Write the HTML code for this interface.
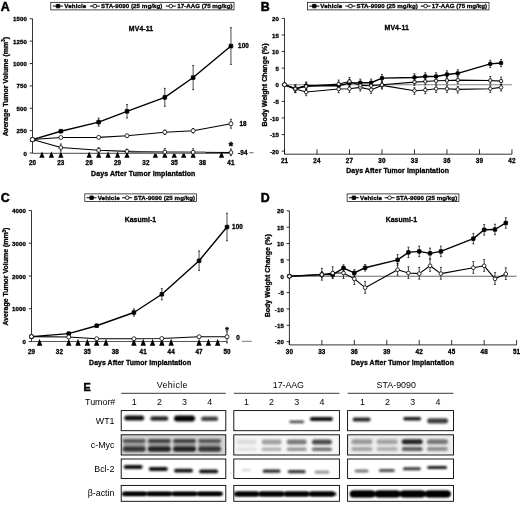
<!DOCTYPE html><html><head><meta charset="utf-8"><title>Figure</title><style>html,body{margin:0;padding:0;background:#fff}svg{display:block}text{font-family:"Liberation Sans",sans-serif;fill:#000}</style></head><body>
<svg width="520" height="506" viewBox="0 0 520 506">
<defs><filter id="b1" x="-20%" y="-50%" width="140%" height="200%"><feGaussianBlur stdDeviation="0.8"/></filter><filter id="b2" x="-20%" y="-50%" width="140%" height="200%"><feGaussianBlur stdDeviation="1.2"/></filter></defs>
<rect width="520" height="506" fill="#fff"/>
<text x="0.70" y="11.20" font-size="12.4" font-weight="bold" text-anchor="start" stroke="#000" stroke-width="0.5" >A</text>
<rect x="50.8" y="2.3" width="183.2" height="7.6000000000000005" fill="#fff" stroke="#000" stroke-width="0.7"/>
<line x1="53.00" y1="6.10" x2="63.00" y2="6.10" stroke="#000" stroke-width="1.0"/>
<rect x="56.25" y="4.35" width="3.5" height="3.5" rx="0.3" fill="#000" stroke="#000" stroke-width="0.8"/>
<text x="64.30" y="8.30" font-size="6.2" font-weight="bold" text-anchor="start" stroke="#000" stroke-width="0.3"  textLength="22" lengthAdjust="spacing">Vehicle</text>
<line x1="89.80" y1="6.10" x2="99.80" y2="6.10" stroke="#000" stroke-width="1.0"/>
<rect x="93.20" y="4.50" width="3.2" height="3.2" rx="0.3" fill="#fff" stroke="#000" stroke-width="0.8"/>
<text x="101.10" y="8.30" font-size="6.2" font-weight="bold" text-anchor="start" stroke="#000" stroke-width="0.3"  textLength="61.3" lengthAdjust="spacing">STA-9090 (25 mg/kg)</text>
<line x1="165.80" y1="6.10" x2="175.80" y2="6.10" stroke="#000" stroke-width="1.0"/>
<circle cx="170.80" cy="6.10" r="1.8" fill="#fff" stroke="#000" stroke-width="0.8"/>
<text x="177.30" y="8.30" font-size="6.2" font-weight="bold" text-anchor="start" stroke="#000" stroke-width="0.3"  textLength="55.3" lengthAdjust="spacing">17-AAG (75 mg/kg)</text>
<line x1="32.50" y1="18.75" x2="32.50" y2="153.00" stroke="#000" stroke-width="0.8"/>
<line x1="32.50" y1="153.30" x2="230.95" y2="153.30" stroke="#333" stroke-width="0.9"/>
<line x1="29.70" y1="153.00" x2="32.50" y2="153.00" stroke="#000" stroke-width="0.8"/>
<text x="27.10" y="155.60" font-size="6.1" font-weight="bold" text-anchor="end" stroke="#000" stroke-width="0.3"  letter-spacing="0.12">0</text>
<line x1="29.70" y1="130.62" x2="32.50" y2="130.62" stroke="#000" stroke-width="0.8"/>
<text x="27.10" y="133.22" font-size="6.1" font-weight="bold" text-anchor="end" stroke="#000" stroke-width="0.3"  letter-spacing="0.12">250</text>
<line x1="29.70" y1="108.25" x2="32.50" y2="108.25" stroke="#000" stroke-width="0.8"/>
<text x="27.10" y="110.85" font-size="6.1" font-weight="bold" text-anchor="end" stroke="#000" stroke-width="0.3"  letter-spacing="0.12">500</text>
<line x1="29.70" y1="85.88" x2="32.50" y2="85.88" stroke="#000" stroke-width="0.8"/>
<text x="27.10" y="88.47" font-size="6.1" font-weight="bold" text-anchor="end" stroke="#000" stroke-width="0.3"  letter-spacing="0.12">750</text>
<line x1="29.70" y1="63.50" x2="32.50" y2="63.50" stroke="#000" stroke-width="0.8"/>
<text x="27.10" y="66.10" font-size="6.1" font-weight="bold" text-anchor="end" stroke="#000" stroke-width="0.3"  letter-spacing="0.12">1000</text>
<line x1="29.70" y1="41.12" x2="32.50" y2="41.12" stroke="#000" stroke-width="0.8"/>
<text x="27.10" y="43.73" font-size="6.1" font-weight="bold" text-anchor="end" stroke="#000" stroke-width="0.3"  letter-spacing="0.12">1250</text>
<line x1="29.70" y1="18.75" x2="32.50" y2="18.75" stroke="#000" stroke-width="0.8"/>
<text x="27.10" y="21.35" font-size="6.1" font-weight="bold" text-anchor="end" stroke="#000" stroke-width="0.3"  letter-spacing="0.12">1500</text>
<text x="32.50" y="165.30" font-size="6.3" font-weight="bold" text-anchor="middle" stroke="#000" stroke-width="0.3"  letter-spacing="0.12">20</text>
<text x="60.85" y="165.30" font-size="6.3" font-weight="bold" text-anchor="middle" stroke="#000" stroke-width="0.3"  letter-spacing="0.12">23</text>
<text x="89.20" y="165.30" font-size="6.3" font-weight="bold" text-anchor="middle" stroke="#000" stroke-width="0.3"  letter-spacing="0.12">26</text>
<text x="117.55" y="165.30" font-size="6.3" font-weight="bold" text-anchor="middle" stroke="#000" stroke-width="0.3"  letter-spacing="0.12">29</text>
<text x="145.90" y="165.30" font-size="6.3" font-weight="bold" text-anchor="middle" stroke="#000" stroke-width="0.3"  letter-spacing="0.12">32</text>
<text x="174.25" y="165.30" font-size="6.3" font-weight="bold" text-anchor="middle" stroke="#000" stroke-width="0.3"  letter-spacing="0.12">35</text>
<text x="202.60" y="165.30" font-size="6.3" font-weight="bold" text-anchor="middle" stroke="#000" stroke-width="0.3"  letter-spacing="0.12">38</text>
<text x="230.95" y="165.30" font-size="6.3" font-weight="bold" text-anchor="middle" stroke="#000" stroke-width="0.3"  letter-spacing="0.12">41</text>
<text transform="translate(7.6,86.6) rotate(-90)" font-size="7.05" font-weight="bold" stroke="#000" stroke-width="0.3" text-anchor="middle">Average Tumor Volume (mm<tspan font-size="4.5" dy="-2.5">3</tspan><tspan dy="2.5">)</tspan></text>
<text x="143.20" y="175.80" font-size="7.0" font-weight="bold" text-anchor="middle" stroke="#000" stroke-width="0.3"  textLength="104.4" lengthAdjust="spacing">Days After Tumor Implantation</text>
<text x="141.00" y="30.80" font-size="6.9" font-weight="bold" text-anchor="middle" stroke="#000" stroke-width="0.3"  textLength="24.3" lengthAdjust="spacing">MV4-11</text>
<polygon points="41.95,151.60 39.35,157.70 44.55,157.70" fill="#000"/>
<polygon points="51.40,151.60 48.80,157.70 54.00,157.70" fill="#000"/>
<polygon points="60.85,151.60 58.25,157.70 63.45,157.70" fill="#000"/>
<polygon points="89.20,151.60 86.60,157.70 91.80,157.70" fill="#000"/>
<polygon points="98.65,151.60 96.05,157.70 101.25,157.70" fill="#000"/>
<polygon points="108.10,151.60 105.50,157.70 110.70,157.70" fill="#000"/>
<polygon points="117.55,151.60 114.95,157.70 120.15,157.70" fill="#000"/>
<polygon points="127.00,151.60 124.40,157.70 129.60,157.70" fill="#000"/>
<polygon points="155.35,151.60 152.75,157.70 157.95,157.70" fill="#000"/>
<polygon points="164.80,151.60 162.20,157.70 167.40,157.70" fill="#000"/>
<polygon points="174.25,151.60 171.65,157.70 176.85,157.70" fill="#000"/>
<polygon points="183.70,151.60 181.10,157.70 186.30,157.70" fill="#000"/>
<polygon points="193.15,151.60 190.55,157.70 195.75,157.70" fill="#000"/>
<polygon points="221.50,151.60 218.90,157.70 224.10,157.70" fill="#000"/>
<polyline fill="none" stroke="#000" stroke-width="1.1" stroke-linejoin="round" points="32.50,139.57 60.85,147.54 98.65,150.31 127.00,151.39 164.80,152.10 193.15,152.28 230.95,152.55"/>
<polyline fill="none" stroke="#000" stroke-width="1.1" stroke-linejoin="round" points="32.50,139.57 60.85,137.52 98.65,137.34 127.00,135.73 164.80,132.24 193.15,130.71 230.95,123.73"/>
<polyline fill="none" stroke="#000" stroke-width="1.4" stroke-linejoin="round" points="32.50,139.57 60.85,131.25 98.65,122.12 127.00,111.29 164.80,97.33 193.15,77.55 230.95,46.05"/>
<line x1="129.83" y1="152.70" x2="205.43" y2="152.70" stroke="#7a7a7a" stroke-width="2.3"/>
<line x1="60.85" y1="129.91" x2="60.85" y2="132.59" stroke="#1a1a1a" stroke-width="0.8"/>
<line x1="59.85" y1="129.91" x2="61.85" y2="129.91" stroke="#1a1a1a" stroke-width="0.8"/>
<line x1="59.85" y1="132.59" x2="61.85" y2="132.59" stroke="#1a1a1a" stroke-width="0.8"/>
<line x1="98.65" y1="118.09" x2="98.65" y2="126.15" stroke="#1a1a1a" stroke-width="0.8"/>
<line x1="97.65" y1="118.09" x2="99.65" y2="118.09" stroke="#1a1a1a" stroke-width="0.8"/>
<line x1="97.65" y1="126.15" x2="99.65" y2="126.15" stroke="#1a1a1a" stroke-width="0.8"/>
<line x1="127.00" y1="104.58" x2="127.00" y2="118.01" stroke="#1a1a1a" stroke-width="0.8"/>
<line x1="126.00" y1="104.58" x2="128.00" y2="104.58" stroke="#1a1a1a" stroke-width="0.8"/>
<line x1="126.00" y1="118.01" x2="128.00" y2="118.01" stroke="#1a1a1a" stroke-width="0.8"/>
<line x1="164.80" y1="88.38" x2="164.80" y2="106.28" stroke="#1a1a1a" stroke-width="0.8"/>
<line x1="163.80" y1="88.38" x2="165.80" y2="88.38" stroke="#1a1a1a" stroke-width="0.8"/>
<line x1="163.80" y1="106.28" x2="165.80" y2="106.28" stroke="#1a1a1a" stroke-width="0.8"/>
<line x1="193.15" y1="65.47" x2="193.15" y2="89.63" stroke="#1a1a1a" stroke-width="0.8"/>
<line x1="192.15" y1="65.47" x2="194.15" y2="65.47" stroke="#1a1a1a" stroke-width="0.8"/>
<line x1="192.15" y1="89.63" x2="194.15" y2="89.63" stroke="#1a1a1a" stroke-width="0.8"/>
<line x1="230.95" y1="27.70" x2="230.95" y2="64.40" stroke="#1a1a1a" stroke-width="0.8"/>
<line x1="229.95" y1="27.70" x2="231.95" y2="27.70" stroke="#1a1a1a" stroke-width="0.8"/>
<line x1="229.95" y1="64.40" x2="231.95" y2="64.40" stroke="#1a1a1a" stroke-width="0.8"/>
<line x1="60.85" y1="136.44" x2="60.85" y2="138.59" stroke="#1a1a1a" stroke-width="0.8"/>
<line x1="59.85" y1="136.44" x2="61.85" y2="136.44" stroke="#1a1a1a" stroke-width="0.8"/>
<line x1="59.85" y1="138.59" x2="61.85" y2="138.59" stroke="#1a1a1a" stroke-width="0.8"/>
<line x1="98.65" y1="136.26" x2="98.65" y2="138.41" stroke="#1a1a1a" stroke-width="0.8"/>
<line x1="97.65" y1="136.26" x2="99.65" y2="136.26" stroke="#1a1a1a" stroke-width="0.8"/>
<line x1="97.65" y1="138.41" x2="99.65" y2="138.41" stroke="#1a1a1a" stroke-width="0.8"/>
<line x1="127.00" y1="134.47" x2="127.00" y2="136.98" stroke="#1a1a1a" stroke-width="0.8"/>
<line x1="126.00" y1="134.47" x2="128.00" y2="134.47" stroke="#1a1a1a" stroke-width="0.8"/>
<line x1="126.00" y1="136.98" x2="128.00" y2="136.98" stroke="#1a1a1a" stroke-width="0.8"/>
<line x1="164.80" y1="130.00" x2="164.80" y2="134.47" stroke="#1a1a1a" stroke-width="0.8"/>
<line x1="163.80" y1="130.00" x2="165.80" y2="130.00" stroke="#1a1a1a" stroke-width="0.8"/>
<line x1="163.80" y1="134.47" x2="165.80" y2="134.47" stroke="#1a1a1a" stroke-width="0.8"/>
<line x1="193.15" y1="128.48" x2="193.15" y2="132.95" stroke="#1a1a1a" stroke-width="0.8"/>
<line x1="192.15" y1="128.48" x2="194.15" y2="128.48" stroke="#1a1a1a" stroke-width="0.8"/>
<line x1="192.15" y1="132.95" x2="194.15" y2="132.95" stroke="#1a1a1a" stroke-width="0.8"/>
<line x1="230.95" y1="119.26" x2="230.95" y2="128.21" stroke="#1a1a1a" stroke-width="0.8"/>
<line x1="229.95" y1="119.26" x2="231.95" y2="119.26" stroke="#1a1a1a" stroke-width="0.8"/>
<line x1="229.95" y1="128.21" x2="231.95" y2="128.21" stroke="#1a1a1a" stroke-width="0.8"/>
<line x1="60.85" y1="143.96" x2="60.85" y2="151.12" stroke="#1a1a1a" stroke-width="0.8"/>
<line x1="59.85" y1="143.96" x2="61.85" y2="143.96" stroke="#1a1a1a" stroke-width="0.8"/>
<line x1="59.85" y1="151.12" x2="61.85" y2="151.12" stroke="#1a1a1a" stroke-width="0.8"/>
<line x1="98.65" y1="147.63" x2="98.65" y2="153.00" stroke="#1a1a1a" stroke-width="0.8"/>
<line x1="97.65" y1="147.63" x2="99.65" y2="147.63" stroke="#1a1a1a" stroke-width="0.8"/>
<line x1="97.65" y1="153.00" x2="99.65" y2="153.00" stroke="#1a1a1a" stroke-width="0.8"/>
<line x1="127.00" y1="149.15" x2="127.00" y2="153.63" stroke="#1a1a1a" stroke-width="0.8"/>
<line x1="126.00" y1="149.15" x2="128.00" y2="149.15" stroke="#1a1a1a" stroke-width="0.8"/>
<line x1="126.00" y1="153.63" x2="128.00" y2="153.63" stroke="#1a1a1a" stroke-width="0.8"/>
<line x1="164.80" y1="148.53" x2="164.80" y2="155.69" stroke="#1a1a1a" stroke-width="0.8"/>
<line x1="163.80" y1="148.53" x2="165.80" y2="148.53" stroke="#1a1a1a" stroke-width="0.8"/>
<line x1="163.80" y1="155.69" x2="165.80" y2="155.69" stroke="#1a1a1a" stroke-width="0.8"/>
<line x1="193.15" y1="148.70" x2="193.15" y2="155.69" stroke="#1a1a1a" stroke-width="0.8"/>
<line x1="192.15" y1="148.70" x2="194.15" y2="148.70" stroke="#1a1a1a" stroke-width="0.8"/>
<line x1="192.15" y1="155.69" x2="194.15" y2="155.69" stroke="#1a1a1a" stroke-width="0.8"/>
<line x1="230.95" y1="148.97" x2="230.95" y2="155.69" stroke="#1a1a1a" stroke-width="0.8"/>
<line x1="229.95" y1="148.97" x2="231.95" y2="148.97" stroke="#1a1a1a" stroke-width="0.8"/>
<line x1="229.95" y1="155.69" x2="231.95" y2="155.69" stroke="#1a1a1a" stroke-width="0.8"/>
<rect x="30.65" y="137.72" width="3.7" height="3.7" rx="0.3" fill="#000" stroke="#000" stroke-width="0.8"/>
<rect x="59.00" y="129.40" width="3.7" height="3.7" rx="0.3" fill="#000" stroke="#000" stroke-width="0.8"/>
<rect x="96.80" y="120.27" width="3.7" height="3.7" rx="0.3" fill="#000" stroke="#000" stroke-width="0.8"/>
<rect x="125.15" y="109.44" width="3.7" height="3.7" rx="0.3" fill="#000" stroke="#000" stroke-width="0.8"/>
<rect x="162.95" y="95.48" width="3.7" height="3.7" rx="0.3" fill="#000" stroke="#000" stroke-width="0.8"/>
<rect x="191.30" y="75.70" width="3.7" height="3.7" rx="0.3" fill="#000" stroke="#000" stroke-width="0.8"/>
<rect x="229.10" y="44.20" width="3.7" height="3.7" rx="0.3" fill="#000" stroke="#000" stroke-width="0.8"/>
<rect x="30.80" y="137.88" width="3.4" height="3.4" rx="0.7" fill="#fff" stroke="#000" stroke-width="0.8"/>
<rect x="59.15" y="145.84" width="3.4" height="3.4" rx="0.7" fill="#fff" stroke="#000" stroke-width="0.8"/>
<rect x="96.95" y="148.62" width="3.4" height="3.4" rx="0.7" fill="#fff" stroke="#000" stroke-width="0.8"/>
<rect x="125.30" y="149.69" width="3.4" height="3.4" rx="0.7" fill="#fff" stroke="#000" stroke-width="0.8"/>
<rect x="163.10" y="150.41" width="3.4" height="3.4" rx="0.7" fill="#fff" stroke="#000" stroke-width="0.8"/>
<rect x="191.45" y="150.58" width="3.4" height="3.4" rx="0.7" fill="#fff" stroke="#000" stroke-width="0.8"/>
<rect x="229.25" y="150.85" width="3.4" height="3.4" rx="0.7" fill="#fff" stroke="#000" stroke-width="0.8"/>
<circle cx="32.50" cy="139.57" r="2.0" fill="#fff" stroke="#000" stroke-width="0.8"/>
<circle cx="60.85" cy="137.52" r="2.0" fill="#fff" stroke="#000" stroke-width="0.8"/>
<circle cx="98.65" cy="137.34" r="2.0" fill="#fff" stroke="#000" stroke-width="0.8"/>
<circle cx="127.00" cy="135.73" r="2.0" fill="#fff" stroke="#000" stroke-width="0.8"/>
<circle cx="164.80" cy="132.24" r="2.0" fill="#fff" stroke="#000" stroke-width="0.8"/>
<circle cx="193.15" cy="130.71" r="2.0" fill="#fff" stroke="#000" stroke-width="0.8"/>
<circle cx="230.95" cy="123.73" r="2.0" fill="#fff" stroke="#000" stroke-width="0.8"/>
<circle cx="32.50" cy="139.57" r="2.2" fill="#fff" stroke="#000" stroke-width="0.8"/>
<text x="243.50" y="48.30" font-size="6.3" font-weight="bold" text-anchor="middle" stroke="#000" stroke-width="0.3"  letter-spacing="0.12">100</text>
<text x="243.00" y="126.30" font-size="6.3" font-weight="bold" text-anchor="middle" stroke="#000" stroke-width="0.3"  letter-spacing="0.12">18</text>
<text x="231.00" y="150.30" font-size="11" font-weight="bold" text-anchor="middle" stroke="#000" stroke-width="0.5" >*</text>
<text x="242.80" y="154.80" font-size="6.3" font-weight="bold" text-anchor="middle" stroke="#000" stroke-width="0.3"  letter-spacing="0.12">-94</text>
<line x1="249.30" y1="152.70" x2="253.50" y2="152.70" stroke="#444" stroke-width="0.8"/>
<text x="260.70" y="11.20" font-size="12.4" font-weight="bold" text-anchor="start" stroke="#000" stroke-width="0.5" >B</text>
<rect x="307.5" y="2.3" width="181.5" height="7.6000000000000005" fill="#fff" stroke="#000" stroke-width="0.7"/>
<line x1="309.30" y1="6.10" x2="319.30" y2="6.10" stroke="#000" stroke-width="1.0"/>
<rect x="312.55" y="4.35" width="3.5" height="3.5" rx="0.3" fill="#000" stroke="#000" stroke-width="0.8"/>
<text x="320.30" y="8.30" font-size="6.2" font-weight="bold" text-anchor="start" stroke="#000" stroke-width="0.3"  textLength="22" lengthAdjust="spacing">Vehicle</text>
<line x1="345.40" y1="6.10" x2="355.40" y2="6.10" stroke="#000" stroke-width="1.0"/>
<rect x="348.80" y="4.50" width="3.2" height="3.2" rx="0.3" fill="#fff" stroke="#000" stroke-width="0.8"/>
<text x="356.50" y="8.30" font-size="6.2" font-weight="bold" text-anchor="start" stroke="#000" stroke-width="0.3"  textLength="61.3" lengthAdjust="spacing">STA-9090 (25 mg/kg)</text>
<line x1="420.60" y1="6.10" x2="430.60" y2="6.10" stroke="#000" stroke-width="1.0"/>
<circle cx="425.60" cy="6.10" r="1.8" fill="#fff" stroke="#000" stroke-width="0.8"/>
<text x="431.80" y="8.30" font-size="6.2" font-weight="bold" text-anchor="start" stroke="#000" stroke-width="0.3"  textLength="55.3" lengthAdjust="spacing">17-AAG (75 mg/kg)</text>
<line x1="284.50" y1="18.35" x2="284.50" y2="154.20" stroke="#000" stroke-width="0.8"/>
<line x1="284.50" y1="154.20" x2="511.93" y2="154.20" stroke="#000" stroke-width="0.8"/>
<line x1="284.50" y1="84.75" x2="511.93" y2="84.75" stroke="#777" stroke-width="0.9"/>
<line x1="281.70" y1="151.15" x2="284.50" y2="151.15" stroke="#000" stroke-width="0.8"/>
<text x="279.10" y="153.75" font-size="6.1" font-weight="bold" text-anchor="end" stroke="#000" stroke-width="0.3"  letter-spacing="0.12">-20</text>
<line x1="281.70" y1="134.55" x2="284.50" y2="134.55" stroke="#000" stroke-width="0.8"/>
<text x="279.10" y="137.15" font-size="6.1" font-weight="bold" text-anchor="end" stroke="#000" stroke-width="0.3"  letter-spacing="0.12">-15</text>
<line x1="281.70" y1="117.95" x2="284.50" y2="117.95" stroke="#000" stroke-width="0.8"/>
<text x="279.10" y="120.55" font-size="6.1" font-weight="bold" text-anchor="end" stroke="#000" stroke-width="0.3"  letter-spacing="0.12">-10</text>
<line x1="281.70" y1="101.35" x2="284.50" y2="101.35" stroke="#000" stroke-width="0.8"/>
<text x="279.10" y="103.95" font-size="6.1" font-weight="bold" text-anchor="end" stroke="#000" stroke-width="0.3"  letter-spacing="0.12">-5</text>
<line x1="281.70" y1="84.75" x2="284.50" y2="84.75" stroke="#000" stroke-width="0.8"/>
<text x="279.10" y="87.35" font-size="6.1" font-weight="bold" text-anchor="end" stroke="#000" stroke-width="0.3"  letter-spacing="0.12">0</text>
<line x1="281.70" y1="68.15" x2="284.50" y2="68.15" stroke="#000" stroke-width="0.8"/>
<text x="279.10" y="70.75" font-size="6.1" font-weight="bold" text-anchor="end" stroke="#000" stroke-width="0.3"  letter-spacing="0.12">5</text>
<line x1="281.70" y1="51.55" x2="284.50" y2="51.55" stroke="#000" stroke-width="0.8"/>
<text x="279.10" y="54.15" font-size="6.1" font-weight="bold" text-anchor="end" stroke="#000" stroke-width="0.3"  letter-spacing="0.12">10</text>
<line x1="281.70" y1="34.95" x2="284.50" y2="34.95" stroke="#000" stroke-width="0.8"/>
<text x="279.10" y="37.55" font-size="6.1" font-weight="bold" text-anchor="end" stroke="#000" stroke-width="0.3"  letter-spacing="0.12">15</text>
<line x1="281.70" y1="18.35" x2="284.50" y2="18.35" stroke="#000" stroke-width="0.8"/>
<text x="279.10" y="20.95" font-size="6.1" font-weight="bold" text-anchor="end" stroke="#000" stroke-width="0.3"  letter-spacing="0.12">20</text>
<line x1="284.50" y1="149.20" x2="284.50" y2="154.20" stroke="#000" stroke-width="0.8"/>
<text x="284.50" y="163.30" font-size="6.3" font-weight="bold" text-anchor="middle" stroke="#000" stroke-width="0.3"  letter-spacing="0.12">21</text>
<line x1="316.99" y1="149.20" x2="316.99" y2="154.20" stroke="#000" stroke-width="0.8"/>
<text x="316.99" y="163.30" font-size="6.3" font-weight="bold" text-anchor="middle" stroke="#000" stroke-width="0.3"  letter-spacing="0.12">24</text>
<line x1="349.48" y1="149.20" x2="349.48" y2="154.20" stroke="#000" stroke-width="0.8"/>
<text x="349.48" y="163.30" font-size="6.3" font-weight="bold" text-anchor="middle" stroke="#000" stroke-width="0.3"  letter-spacing="0.12">27</text>
<line x1="381.97" y1="149.20" x2="381.97" y2="154.20" stroke="#000" stroke-width="0.8"/>
<text x="381.97" y="163.30" font-size="6.3" font-weight="bold" text-anchor="middle" stroke="#000" stroke-width="0.3"  letter-spacing="0.12">30</text>
<line x1="414.46" y1="149.20" x2="414.46" y2="154.20" stroke="#000" stroke-width="0.8"/>
<text x="414.46" y="163.30" font-size="6.3" font-weight="bold" text-anchor="middle" stroke="#000" stroke-width="0.3"  letter-spacing="0.12">33</text>
<line x1="446.95" y1="149.20" x2="446.95" y2="154.20" stroke="#000" stroke-width="0.8"/>
<text x="446.95" y="163.30" font-size="6.3" font-weight="bold" text-anchor="middle" stroke="#000" stroke-width="0.3"  letter-spacing="0.12">36</text>
<line x1="479.44" y1="149.20" x2="479.44" y2="154.20" stroke="#000" stroke-width="0.8"/>
<text x="479.44" y="163.30" font-size="6.3" font-weight="bold" text-anchor="middle" stroke="#000" stroke-width="0.3"  letter-spacing="0.12">39</text>
<line x1="511.93" y1="149.20" x2="511.93" y2="154.20" stroke="#000" stroke-width="0.8"/>
<text x="511.93" y="163.30" font-size="6.3" font-weight="bold" text-anchor="middle" stroke="#000" stroke-width="0.3"  letter-spacing="0.12">42</text>
<text transform="translate(267.2,84.9) rotate(-90)" font-size="7.0" font-weight="bold" stroke="#000" stroke-width="0.3" text-anchor="middle">Body Weight Change (%)</text>
<text x="397.60" y="173.40" font-size="6.9" font-weight="bold" text-anchor="middle" stroke="#000" stroke-width="0.3"  textLength="102.8" lengthAdjust="spacing">Days After Tumor Implantation</text>
<text x="396.70" y="30.20" font-size="6.9" font-weight="bold" text-anchor="middle" stroke="#000" stroke-width="0.3"  textLength="24.3" lengthAdjust="spacing">MV4-11</text>
<polyline fill="none" stroke="#000" stroke-width="1.1" stroke-linejoin="round" points="284.50,84.75 295.33,89.07 306.16,92.05 338.65,89.07 349.48,88.73 360.31,87.41 371.14,89.73 381.97,85.41 414.46,90.73 425.29,90.06 436.12,88.73 446.95,88.73 457.78,89.40 490.27,88.73 501.10,87.41"/>
<polyline fill="none" stroke="#000" stroke-width="1.1" stroke-linejoin="round" points="284.50,84.75 295.33,88.73 306.16,86.41 338.65,84.09 349.48,81.43 360.31,85.41 371.14,85.75 381.97,84.75 414.46,82.09 425.29,81.43 436.12,80.77 446.95,80.43 457.78,80.10 490.27,80.43 501.10,81.10"/>
<polyline fill="none" stroke="#000" stroke-width="1.4" stroke-linejoin="round" points="284.50,84.75 295.33,88.73 306.16,85.75 338.65,85.75 349.48,83.09 360.31,82.76 371.14,82.76 381.97,78.11 414.46,77.45 425.29,76.45 436.12,76.45 446.95,74.46 457.78,73.30 490.27,63.83 501.10,63.00"/>
<line x1="295.33" y1="85.08" x2="295.33" y2="92.39" stroke="#1a1a1a" stroke-width="0.8"/>
<line x1="294.33" y1="85.08" x2="296.33" y2="85.08" stroke="#1a1a1a" stroke-width="0.8"/>
<line x1="294.33" y1="92.39" x2="296.33" y2="92.39" stroke="#1a1a1a" stroke-width="0.8"/>
<line x1="295.33" y1="84.75" x2="295.33" y2="92.05" stroke="#1a1a1a" stroke-width="0.8"/>
<line x1="294.33" y1="84.75" x2="296.33" y2="84.75" stroke="#1a1a1a" stroke-width="0.8"/>
<line x1="294.33" y1="92.05" x2="296.33" y2="92.05" stroke="#1a1a1a" stroke-width="0.8"/>
<line x1="295.33" y1="86.08" x2="295.33" y2="92.72" stroke="#1a1a1a" stroke-width="0.8"/>
<line x1="294.33" y1="86.08" x2="296.33" y2="86.08" stroke="#1a1a1a" stroke-width="0.8"/>
<line x1="294.33" y1="92.72" x2="296.33" y2="92.72" stroke="#1a1a1a" stroke-width="0.8"/>
<line x1="306.16" y1="82.09" x2="306.16" y2="89.40" stroke="#1a1a1a" stroke-width="0.8"/>
<line x1="305.16" y1="82.09" x2="307.16" y2="82.09" stroke="#1a1a1a" stroke-width="0.8"/>
<line x1="305.16" y1="89.40" x2="307.16" y2="89.40" stroke="#1a1a1a" stroke-width="0.8"/>
<line x1="306.16" y1="82.43" x2="306.16" y2="89.73" stroke="#1a1a1a" stroke-width="0.8"/>
<line x1="305.16" y1="82.43" x2="307.16" y2="82.43" stroke="#1a1a1a" stroke-width="0.8"/>
<line x1="305.16" y1="89.73" x2="307.16" y2="89.73" stroke="#1a1a1a" stroke-width="0.8"/>
<line x1="306.16" y1="89.07" x2="306.16" y2="95.71" stroke="#1a1a1a" stroke-width="0.8"/>
<line x1="305.16" y1="89.07" x2="307.16" y2="89.07" stroke="#1a1a1a" stroke-width="0.8"/>
<line x1="305.16" y1="95.71" x2="307.16" y2="95.71" stroke="#1a1a1a" stroke-width="0.8"/>
<line x1="338.65" y1="82.09" x2="338.65" y2="89.40" stroke="#1a1a1a" stroke-width="0.8"/>
<line x1="337.65" y1="82.09" x2="339.65" y2="82.09" stroke="#1a1a1a" stroke-width="0.8"/>
<line x1="337.65" y1="89.40" x2="339.65" y2="89.40" stroke="#1a1a1a" stroke-width="0.8"/>
<line x1="338.65" y1="80.10" x2="338.65" y2="87.41" stroke="#1a1a1a" stroke-width="0.8"/>
<line x1="337.65" y1="80.10" x2="339.65" y2="80.10" stroke="#1a1a1a" stroke-width="0.8"/>
<line x1="337.65" y1="87.41" x2="339.65" y2="87.41" stroke="#1a1a1a" stroke-width="0.8"/>
<line x1="338.65" y1="86.08" x2="338.65" y2="92.72" stroke="#1a1a1a" stroke-width="0.8"/>
<line x1="337.65" y1="86.08" x2="339.65" y2="86.08" stroke="#1a1a1a" stroke-width="0.8"/>
<line x1="337.65" y1="92.72" x2="339.65" y2="92.72" stroke="#1a1a1a" stroke-width="0.8"/>
<line x1="349.48" y1="79.44" x2="349.48" y2="86.74" stroke="#1a1a1a" stroke-width="0.8"/>
<line x1="348.48" y1="79.44" x2="350.48" y2="79.44" stroke="#1a1a1a" stroke-width="0.8"/>
<line x1="348.48" y1="86.74" x2="350.48" y2="86.74" stroke="#1a1a1a" stroke-width="0.8"/>
<line x1="349.48" y1="77.45" x2="349.48" y2="84.75" stroke="#1a1a1a" stroke-width="0.8"/>
<line x1="348.48" y1="77.45" x2="350.48" y2="77.45" stroke="#1a1a1a" stroke-width="0.8"/>
<line x1="348.48" y1="84.75" x2="350.48" y2="84.75" stroke="#1a1a1a" stroke-width="0.8"/>
<line x1="349.48" y1="85.75" x2="349.48" y2="92.39" stroke="#1a1a1a" stroke-width="0.8"/>
<line x1="348.48" y1="85.75" x2="350.48" y2="85.75" stroke="#1a1a1a" stroke-width="0.8"/>
<line x1="348.48" y1="92.39" x2="350.48" y2="92.39" stroke="#1a1a1a" stroke-width="0.8"/>
<line x1="360.31" y1="79.11" x2="360.31" y2="86.41" stroke="#1a1a1a" stroke-width="0.8"/>
<line x1="359.31" y1="79.11" x2="361.31" y2="79.11" stroke="#1a1a1a" stroke-width="0.8"/>
<line x1="359.31" y1="86.41" x2="361.31" y2="86.41" stroke="#1a1a1a" stroke-width="0.8"/>
<line x1="360.31" y1="81.43" x2="360.31" y2="88.73" stroke="#1a1a1a" stroke-width="0.8"/>
<line x1="359.31" y1="81.43" x2="361.31" y2="81.43" stroke="#1a1a1a" stroke-width="0.8"/>
<line x1="359.31" y1="88.73" x2="361.31" y2="88.73" stroke="#1a1a1a" stroke-width="0.8"/>
<line x1="360.31" y1="84.42" x2="360.31" y2="91.06" stroke="#1a1a1a" stroke-width="0.8"/>
<line x1="359.31" y1="84.42" x2="361.31" y2="84.42" stroke="#1a1a1a" stroke-width="0.8"/>
<line x1="359.31" y1="91.06" x2="361.31" y2="91.06" stroke="#1a1a1a" stroke-width="0.8"/>
<line x1="371.14" y1="79.11" x2="371.14" y2="86.41" stroke="#1a1a1a" stroke-width="0.8"/>
<line x1="370.14" y1="79.11" x2="372.14" y2="79.11" stroke="#1a1a1a" stroke-width="0.8"/>
<line x1="370.14" y1="86.41" x2="372.14" y2="86.41" stroke="#1a1a1a" stroke-width="0.8"/>
<line x1="371.14" y1="81.76" x2="371.14" y2="89.07" stroke="#1a1a1a" stroke-width="0.8"/>
<line x1="370.14" y1="81.76" x2="372.14" y2="81.76" stroke="#1a1a1a" stroke-width="0.8"/>
<line x1="370.14" y1="89.07" x2="372.14" y2="89.07" stroke="#1a1a1a" stroke-width="0.8"/>
<line x1="371.14" y1="86.74" x2="371.14" y2="93.38" stroke="#1a1a1a" stroke-width="0.8"/>
<line x1="370.14" y1="86.74" x2="372.14" y2="86.74" stroke="#1a1a1a" stroke-width="0.8"/>
<line x1="370.14" y1="93.38" x2="372.14" y2="93.38" stroke="#1a1a1a" stroke-width="0.8"/>
<line x1="381.97" y1="74.46" x2="381.97" y2="81.76" stroke="#1a1a1a" stroke-width="0.8"/>
<line x1="380.97" y1="74.46" x2="382.97" y2="74.46" stroke="#1a1a1a" stroke-width="0.8"/>
<line x1="380.97" y1="81.76" x2="382.97" y2="81.76" stroke="#1a1a1a" stroke-width="0.8"/>
<line x1="381.97" y1="80.77" x2="381.97" y2="88.07" stroke="#1a1a1a" stroke-width="0.8"/>
<line x1="380.97" y1="80.77" x2="382.97" y2="80.77" stroke="#1a1a1a" stroke-width="0.8"/>
<line x1="380.97" y1="88.07" x2="382.97" y2="88.07" stroke="#1a1a1a" stroke-width="0.8"/>
<line x1="381.97" y1="82.43" x2="381.97" y2="89.07" stroke="#1a1a1a" stroke-width="0.8"/>
<line x1="380.97" y1="82.43" x2="382.97" y2="82.43" stroke="#1a1a1a" stroke-width="0.8"/>
<line x1="380.97" y1="89.07" x2="382.97" y2="89.07" stroke="#1a1a1a" stroke-width="0.8"/>
<line x1="414.46" y1="73.79" x2="414.46" y2="81.10" stroke="#1a1a1a" stroke-width="0.8"/>
<line x1="413.46" y1="73.79" x2="415.46" y2="73.79" stroke="#1a1a1a" stroke-width="0.8"/>
<line x1="413.46" y1="81.10" x2="415.46" y2="81.10" stroke="#1a1a1a" stroke-width="0.8"/>
<line x1="414.46" y1="78.11" x2="414.46" y2="85.41" stroke="#1a1a1a" stroke-width="0.8"/>
<line x1="413.46" y1="78.11" x2="415.46" y2="78.11" stroke="#1a1a1a" stroke-width="0.8"/>
<line x1="413.46" y1="85.41" x2="415.46" y2="85.41" stroke="#1a1a1a" stroke-width="0.8"/>
<line x1="414.46" y1="87.74" x2="414.46" y2="94.38" stroke="#1a1a1a" stroke-width="0.8"/>
<line x1="413.46" y1="87.74" x2="415.46" y2="87.74" stroke="#1a1a1a" stroke-width="0.8"/>
<line x1="413.46" y1="94.38" x2="415.46" y2="94.38" stroke="#1a1a1a" stroke-width="0.8"/>
<line x1="425.29" y1="72.80" x2="425.29" y2="80.10" stroke="#1a1a1a" stroke-width="0.8"/>
<line x1="424.29" y1="72.80" x2="426.29" y2="72.80" stroke="#1a1a1a" stroke-width="0.8"/>
<line x1="424.29" y1="80.10" x2="426.29" y2="80.10" stroke="#1a1a1a" stroke-width="0.8"/>
<line x1="425.29" y1="77.45" x2="425.29" y2="84.75" stroke="#1a1a1a" stroke-width="0.8"/>
<line x1="424.29" y1="77.45" x2="426.29" y2="77.45" stroke="#1a1a1a" stroke-width="0.8"/>
<line x1="424.29" y1="84.75" x2="426.29" y2="84.75" stroke="#1a1a1a" stroke-width="0.8"/>
<line x1="425.29" y1="87.07" x2="425.29" y2="93.71" stroke="#1a1a1a" stroke-width="0.8"/>
<line x1="424.29" y1="87.07" x2="426.29" y2="87.07" stroke="#1a1a1a" stroke-width="0.8"/>
<line x1="424.29" y1="93.71" x2="426.29" y2="93.71" stroke="#1a1a1a" stroke-width="0.8"/>
<line x1="436.12" y1="72.80" x2="436.12" y2="80.10" stroke="#1a1a1a" stroke-width="0.8"/>
<line x1="435.12" y1="72.80" x2="437.12" y2="72.80" stroke="#1a1a1a" stroke-width="0.8"/>
<line x1="435.12" y1="80.10" x2="437.12" y2="80.10" stroke="#1a1a1a" stroke-width="0.8"/>
<line x1="436.12" y1="76.78" x2="436.12" y2="84.09" stroke="#1a1a1a" stroke-width="0.8"/>
<line x1="435.12" y1="76.78" x2="437.12" y2="76.78" stroke="#1a1a1a" stroke-width="0.8"/>
<line x1="435.12" y1="84.09" x2="437.12" y2="84.09" stroke="#1a1a1a" stroke-width="0.8"/>
<line x1="436.12" y1="85.75" x2="436.12" y2="92.39" stroke="#1a1a1a" stroke-width="0.8"/>
<line x1="435.12" y1="85.75" x2="437.12" y2="85.75" stroke="#1a1a1a" stroke-width="0.8"/>
<line x1="435.12" y1="92.39" x2="437.12" y2="92.39" stroke="#1a1a1a" stroke-width="0.8"/>
<line x1="446.95" y1="70.81" x2="446.95" y2="78.11" stroke="#1a1a1a" stroke-width="0.8"/>
<line x1="445.95" y1="70.81" x2="447.95" y2="70.81" stroke="#1a1a1a" stroke-width="0.8"/>
<line x1="445.95" y1="78.11" x2="447.95" y2="78.11" stroke="#1a1a1a" stroke-width="0.8"/>
<line x1="446.95" y1="76.45" x2="446.95" y2="83.75" stroke="#1a1a1a" stroke-width="0.8"/>
<line x1="445.95" y1="76.45" x2="447.95" y2="76.45" stroke="#1a1a1a" stroke-width="0.8"/>
<line x1="445.95" y1="83.75" x2="447.95" y2="83.75" stroke="#1a1a1a" stroke-width="0.8"/>
<line x1="446.95" y1="85.75" x2="446.95" y2="92.39" stroke="#1a1a1a" stroke-width="0.8"/>
<line x1="445.95" y1="85.75" x2="447.95" y2="85.75" stroke="#1a1a1a" stroke-width="0.8"/>
<line x1="445.95" y1="92.39" x2="447.95" y2="92.39" stroke="#1a1a1a" stroke-width="0.8"/>
<line x1="457.78" y1="69.64" x2="457.78" y2="76.95" stroke="#1a1a1a" stroke-width="0.8"/>
<line x1="456.78" y1="69.64" x2="458.78" y2="69.64" stroke="#1a1a1a" stroke-width="0.8"/>
<line x1="456.78" y1="76.95" x2="458.78" y2="76.95" stroke="#1a1a1a" stroke-width="0.8"/>
<line x1="457.78" y1="76.12" x2="457.78" y2="83.42" stroke="#1a1a1a" stroke-width="0.8"/>
<line x1="456.78" y1="76.12" x2="458.78" y2="76.12" stroke="#1a1a1a" stroke-width="0.8"/>
<line x1="456.78" y1="83.42" x2="458.78" y2="83.42" stroke="#1a1a1a" stroke-width="0.8"/>
<line x1="457.78" y1="86.41" x2="457.78" y2="93.05" stroke="#1a1a1a" stroke-width="0.8"/>
<line x1="456.78" y1="86.41" x2="458.78" y2="86.41" stroke="#1a1a1a" stroke-width="0.8"/>
<line x1="456.78" y1="93.05" x2="458.78" y2="93.05" stroke="#1a1a1a" stroke-width="0.8"/>
<line x1="490.27" y1="60.18" x2="490.27" y2="67.49" stroke="#1a1a1a" stroke-width="0.8"/>
<line x1="489.27" y1="60.18" x2="491.27" y2="60.18" stroke="#1a1a1a" stroke-width="0.8"/>
<line x1="489.27" y1="67.49" x2="491.27" y2="67.49" stroke="#1a1a1a" stroke-width="0.8"/>
<line x1="490.27" y1="76.45" x2="490.27" y2="83.75" stroke="#1a1a1a" stroke-width="0.8"/>
<line x1="489.27" y1="76.45" x2="491.27" y2="76.45" stroke="#1a1a1a" stroke-width="0.8"/>
<line x1="489.27" y1="83.75" x2="491.27" y2="83.75" stroke="#1a1a1a" stroke-width="0.8"/>
<line x1="490.27" y1="85.75" x2="490.27" y2="92.39" stroke="#1a1a1a" stroke-width="0.8"/>
<line x1="489.27" y1="85.75" x2="491.27" y2="85.75" stroke="#1a1a1a" stroke-width="0.8"/>
<line x1="489.27" y1="92.39" x2="491.27" y2="92.39" stroke="#1a1a1a" stroke-width="0.8"/>
<line x1="501.10" y1="59.35" x2="501.10" y2="66.66" stroke="#1a1a1a" stroke-width="0.8"/>
<line x1="500.10" y1="59.35" x2="502.10" y2="59.35" stroke="#1a1a1a" stroke-width="0.8"/>
<line x1="500.10" y1="66.66" x2="502.10" y2="66.66" stroke="#1a1a1a" stroke-width="0.8"/>
<line x1="501.10" y1="77.11" x2="501.10" y2="84.42" stroke="#1a1a1a" stroke-width="0.8"/>
<line x1="500.10" y1="77.11" x2="502.10" y2="77.11" stroke="#1a1a1a" stroke-width="0.8"/>
<line x1="500.10" y1="84.42" x2="502.10" y2="84.42" stroke="#1a1a1a" stroke-width="0.8"/>
<line x1="501.10" y1="84.42" x2="501.10" y2="91.06" stroke="#1a1a1a" stroke-width="0.8"/>
<line x1="500.10" y1="84.42" x2="502.10" y2="84.42" stroke="#1a1a1a" stroke-width="0.8"/>
<line x1="500.10" y1="91.06" x2="502.10" y2="91.06" stroke="#1a1a1a" stroke-width="0.8"/>
<rect x="282.90" y="83.15" width="3.2" height="3.2" rx="0.3" fill="#000" stroke="#000" stroke-width="0.8"/>
<rect x="293.73" y="87.13" width="3.2" height="3.2" rx="0.3" fill="#000" stroke="#000" stroke-width="0.8"/>
<rect x="304.56" y="84.15" width="3.2" height="3.2" rx="0.3" fill="#000" stroke="#000" stroke-width="0.8"/>
<rect x="337.05" y="84.15" width="3.2" height="3.2" rx="0.3" fill="#000" stroke="#000" stroke-width="0.8"/>
<rect x="347.88" y="81.49" width="3.2" height="3.2" rx="0.3" fill="#000" stroke="#000" stroke-width="0.8"/>
<rect x="358.71" y="81.16" width="3.2" height="3.2" rx="0.3" fill="#000" stroke="#000" stroke-width="0.8"/>
<rect x="369.54" y="81.16" width="3.2" height="3.2" rx="0.3" fill="#000" stroke="#000" stroke-width="0.8"/>
<rect x="380.37" y="76.51" width="3.2" height="3.2" rx="0.3" fill="#000" stroke="#000" stroke-width="0.8"/>
<rect x="412.86" y="75.85" width="3.2" height="3.2" rx="0.3" fill="#000" stroke="#000" stroke-width="0.8"/>
<rect x="423.69" y="74.85" width="3.2" height="3.2" rx="0.3" fill="#000" stroke="#000" stroke-width="0.8"/>
<rect x="434.52" y="74.85" width="3.2" height="3.2" rx="0.3" fill="#000" stroke="#000" stroke-width="0.8"/>
<rect x="445.35" y="72.86" width="3.2" height="3.2" rx="0.3" fill="#000" stroke="#000" stroke-width="0.8"/>
<rect x="456.18" y="71.70" width="3.2" height="3.2" rx="0.3" fill="#000" stroke="#000" stroke-width="0.8"/>
<rect x="488.67" y="62.23" width="3.2" height="3.2" rx="0.3" fill="#000" stroke="#000" stroke-width="0.8"/>
<rect x="499.50" y="61.40" width="3.2" height="3.2" rx="0.3" fill="#000" stroke="#000" stroke-width="0.8"/>
<circle cx="284.50" cy="84.75" r="1.75" fill="#fff" stroke="#000" stroke-width="0.8"/>
<circle cx="295.33" cy="89.07" r="1.75" fill="#fff" stroke="#000" stroke-width="0.8"/>
<circle cx="306.16" cy="92.05" r="1.75" fill="#fff" stroke="#000" stroke-width="0.8"/>
<circle cx="338.65" cy="89.07" r="1.75" fill="#fff" stroke="#000" stroke-width="0.8"/>
<circle cx="349.48" cy="88.73" r="1.75" fill="#fff" stroke="#000" stroke-width="0.8"/>
<circle cx="360.31" cy="87.41" r="1.75" fill="#fff" stroke="#000" stroke-width="0.8"/>
<circle cx="371.14" cy="89.73" r="1.75" fill="#fff" stroke="#000" stroke-width="0.8"/>
<circle cx="381.97" cy="85.41" r="1.75" fill="#fff" stroke="#000" stroke-width="0.8"/>
<circle cx="414.46" cy="90.73" r="1.75" fill="#fff" stroke="#000" stroke-width="0.8"/>
<circle cx="425.29" cy="90.06" r="1.75" fill="#fff" stroke="#000" stroke-width="0.8"/>
<circle cx="436.12" cy="88.73" r="1.75" fill="#fff" stroke="#000" stroke-width="0.8"/>
<circle cx="446.95" cy="88.73" r="1.75" fill="#fff" stroke="#000" stroke-width="0.8"/>
<circle cx="457.78" cy="89.40" r="1.75" fill="#fff" stroke="#000" stroke-width="0.8"/>
<circle cx="490.27" cy="88.73" r="1.75" fill="#fff" stroke="#000" stroke-width="0.8"/>
<circle cx="501.10" cy="87.41" r="1.75" fill="#fff" stroke="#000" stroke-width="0.8"/>
<rect x="283.00" y="83.25" width="3.0" height="3.0" rx="0.5" fill="#fff" stroke="#000" stroke-width="0.8"/>
<rect x="293.83" y="87.23" width="3.0" height="3.0" rx="0.5" fill="#fff" stroke="#000" stroke-width="0.8"/>
<rect x="304.66" y="84.91" width="3.0" height="3.0" rx="0.5" fill="#fff" stroke="#000" stroke-width="0.8"/>
<rect x="337.15" y="82.59" width="3.0" height="3.0" rx="0.5" fill="#fff" stroke="#000" stroke-width="0.8"/>
<rect x="347.98" y="79.93" width="3.0" height="3.0" rx="0.5" fill="#fff" stroke="#000" stroke-width="0.8"/>
<rect x="358.81" y="83.91" width="3.0" height="3.0" rx="0.5" fill="#fff" stroke="#000" stroke-width="0.8"/>
<rect x="369.64" y="84.25" width="3.0" height="3.0" rx="0.5" fill="#fff" stroke="#000" stroke-width="0.8"/>
<rect x="380.47" y="83.25" width="3.0" height="3.0" rx="0.5" fill="#fff" stroke="#000" stroke-width="0.8"/>
<rect x="412.96" y="80.59" width="3.0" height="3.0" rx="0.5" fill="#fff" stroke="#000" stroke-width="0.8"/>
<rect x="423.79" y="79.93" width="3.0" height="3.0" rx="0.5" fill="#fff" stroke="#000" stroke-width="0.8"/>
<rect x="434.62" y="79.27" width="3.0" height="3.0" rx="0.5" fill="#fff" stroke="#000" stroke-width="0.8"/>
<rect x="445.45" y="78.93" width="3.0" height="3.0" rx="0.5" fill="#fff" stroke="#000" stroke-width="0.8"/>
<rect x="456.28" y="78.60" width="3.0" height="3.0" rx="0.5" fill="#fff" stroke="#000" stroke-width="0.8"/>
<rect x="488.77" y="78.93" width="3.0" height="3.0" rx="0.5" fill="#fff" stroke="#000" stroke-width="0.8"/>
<rect x="499.60" y="79.60" width="3.0" height="3.0" rx="0.5" fill="#fff" stroke="#000" stroke-width="0.8"/>
<circle cx="284.50" cy="84.75" r="2.0" fill="#fff" stroke="#000" stroke-width="0.8"/>
<text x="0.70" y="202.30" font-size="12.4" font-weight="bold" text-anchor="start" stroke="#000" stroke-width="0.5" >C</text>
<rect x="84.8" y="193.9" width="111.7" height="7.699999999999989" fill="#fff" stroke="#000" stroke-width="0.7"/>
<line x1="86.60" y1="197.75" x2="96.60" y2="197.75" stroke="#000" stroke-width="1.0"/>
<rect x="89.85" y="196.00" width="3.5" height="3.5" rx="0.3" fill="#000" stroke="#000" stroke-width="0.8"/>
<text x="97.70" y="199.95" font-size="6.2" font-weight="bold" text-anchor="start" stroke="#000" stroke-width="0.3"  textLength="22" lengthAdjust="spacing">Vehicle</text>
<line x1="122.20" y1="197.75" x2="132.20" y2="197.75" stroke="#000" stroke-width="1.0"/>
<circle cx="127.20" cy="197.75" r="1.8" fill="#fff" stroke="#000" stroke-width="0.8"/>
<text x="133.80" y="199.95" font-size="6.2" font-weight="bold" text-anchor="start" stroke="#000" stroke-width="0.3"  textLength="61.3" lengthAdjust="spacing">STA-9090 (25 mg/kg)</text>
<line x1="31.50" y1="210.50" x2="31.50" y2="341.50" stroke="#000" stroke-width="0.8"/>
<line x1="31.50" y1="341.50" x2="227.01" y2="341.50" stroke="#444" stroke-width="0.9"/>
<line x1="28.70" y1="341.50" x2="31.50" y2="341.50" stroke="#000" stroke-width="0.8"/>
<text x="26.10" y="344.10" font-size="6.1" font-weight="bold" text-anchor="end" stroke="#000" stroke-width="0.3"  letter-spacing="0.12">0</text>
<line x1="28.70" y1="308.75" x2="31.50" y2="308.75" stroke="#000" stroke-width="0.8"/>
<text x="26.10" y="311.35" font-size="6.1" font-weight="bold" text-anchor="end" stroke="#000" stroke-width="0.3"  letter-spacing="0.12">1000</text>
<line x1="28.70" y1="276.00" x2="31.50" y2="276.00" stroke="#000" stroke-width="0.8"/>
<text x="26.10" y="278.60" font-size="6.1" font-weight="bold" text-anchor="end" stroke="#000" stroke-width="0.3"  letter-spacing="0.12">2000</text>
<line x1="28.70" y1="243.25" x2="31.50" y2="243.25" stroke="#000" stroke-width="0.8"/>
<text x="26.10" y="245.85" font-size="6.1" font-weight="bold" text-anchor="end" stroke="#000" stroke-width="0.3"  letter-spacing="0.12">3000</text>
<line x1="28.70" y1="210.50" x2="31.50" y2="210.50" stroke="#000" stroke-width="0.8"/>
<text x="26.10" y="213.10" font-size="6.1" font-weight="bold" text-anchor="end" stroke="#000" stroke-width="0.3"  letter-spacing="0.12">4000</text>
<text x="31.50" y="353.80" font-size="6.3" font-weight="bold" text-anchor="middle" stroke="#000" stroke-width="0.3"  letter-spacing="0.12">29</text>
<text x="59.43" y="353.80" font-size="6.3" font-weight="bold" text-anchor="middle" stroke="#000" stroke-width="0.3"  letter-spacing="0.12">32</text>
<text x="87.36" y="353.80" font-size="6.3" font-weight="bold" text-anchor="middle" stroke="#000" stroke-width="0.3"  letter-spacing="0.12">35</text>
<text x="115.29" y="353.80" font-size="6.3" font-weight="bold" text-anchor="middle" stroke="#000" stroke-width="0.3"  letter-spacing="0.12">38</text>
<text x="143.22" y="353.80" font-size="6.3" font-weight="bold" text-anchor="middle" stroke="#000" stroke-width="0.3"  letter-spacing="0.12">41</text>
<text x="171.15" y="353.80" font-size="6.3" font-weight="bold" text-anchor="middle" stroke="#000" stroke-width="0.3"  letter-spacing="0.12">44</text>
<text x="199.08" y="353.80" font-size="6.3" font-weight="bold" text-anchor="middle" stroke="#000" stroke-width="0.3"  letter-spacing="0.12">47</text>
<text x="227.01" y="353.80" font-size="6.3" font-weight="bold" text-anchor="middle" stroke="#000" stroke-width="0.3"  letter-spacing="0.12">50</text>
<text transform="translate(8.2,276.6) rotate(-90)" font-size="6.95" font-weight="bold" stroke="#000" stroke-width="0.3" text-anchor="middle">Average Tumor Volume (mm<tspan font-size="4.5" dy="-2.5">3</tspan><tspan dy="2.5">)</tspan></text>
<text x="140.10" y="365.00" font-size="6.9" font-weight="bold" text-anchor="middle" stroke="#000" stroke-width="0.3"  textLength="102" lengthAdjust="spacing">Days After Tumor Implantation</text>
<text x="140.40" y="222.00" font-size="6.9" font-weight="bold" text-anchor="middle" stroke="#000" stroke-width="0.3"  textLength="31.5" lengthAdjust="spacing">Kasumi-1</text>
<polygon points="39.60,338.80 36.90,345.80 42.30,345.80" fill="#000"/>
<polygon points="68.74,338.80 66.04,345.80 71.44,345.80" fill="#000"/>
<polygon points="78.05,338.80 75.35,345.80 80.75,345.80" fill="#000"/>
<polygon points="87.36,338.80 84.66,345.80 90.06,345.80" fill="#000"/>
<polygon points="96.67,338.80 93.97,345.80 99.37,345.80" fill="#000"/>
<polygon points="105.98,338.80 103.28,345.80 108.68,345.80" fill="#000"/>
<polygon points="133.91,338.80 131.21,345.80 136.61,345.80" fill="#000"/>
<polygon points="143.22,338.80 140.52,345.80 145.92,345.80" fill="#000"/>
<polygon points="152.53,338.80 149.83,345.80 155.23,345.80" fill="#000"/>
<polygon points="161.84,338.80 159.14,345.80 164.54,345.80" fill="#000"/>
<polygon points="171.15,338.80 168.45,345.80 173.85,345.80" fill="#000"/>
<polygon points="199.08,338.80 196.38,345.80 201.78,345.80" fill="#000"/>
<polygon points="208.39,338.80 205.69,345.80 211.09,345.80" fill="#000"/>
<polygon points="217.70,338.80 215.00,345.80 220.40,345.80" fill="#000"/>
<polyline fill="none" stroke="#000" stroke-width="1.1" stroke-linejoin="round" points="31.50,336.59 68.74,337.01 96.67,338.75 133.91,338.75 161.84,338.55 199.08,336.75 227.01,336.75"/>
<polyline fill="none" stroke="#000" stroke-width="1.4" stroke-linejoin="round" points="31.50,336.59 68.74,333.64 96.67,325.75 133.91,312.52 161.84,294.24 199.08,260.77 227.01,227.04"/>
<line x1="68.74" y1="332.66" x2="68.74" y2="334.62" stroke="#1a1a1a" stroke-width="0.8"/>
<line x1="67.74" y1="332.66" x2="69.74" y2="332.66" stroke="#1a1a1a" stroke-width="0.8"/>
<line x1="67.74" y1="334.62" x2="69.74" y2="334.62" stroke="#1a1a1a" stroke-width="0.8"/>
<line x1="96.67" y1="324.11" x2="96.67" y2="327.38" stroke="#1a1a1a" stroke-width="0.8"/>
<line x1="95.67" y1="324.11" x2="97.67" y2="324.11" stroke="#1a1a1a" stroke-width="0.8"/>
<line x1="95.67" y1="327.38" x2="97.67" y2="327.38" stroke="#1a1a1a" stroke-width="0.8"/>
<line x1="133.91" y1="308.91" x2="133.91" y2="316.12" stroke="#1a1a1a" stroke-width="0.8"/>
<line x1="132.91" y1="308.91" x2="134.91" y2="308.91" stroke="#1a1a1a" stroke-width="0.8"/>
<line x1="132.91" y1="316.12" x2="134.91" y2="316.12" stroke="#1a1a1a" stroke-width="0.8"/>
<line x1="161.84" y1="288.67" x2="161.84" y2="299.81" stroke="#1a1a1a" stroke-width="0.8"/>
<line x1="160.84" y1="288.67" x2="162.84" y2="288.67" stroke="#1a1a1a" stroke-width="0.8"/>
<line x1="160.84" y1="299.81" x2="162.84" y2="299.81" stroke="#1a1a1a" stroke-width="0.8"/>
<line x1="199.08" y1="250.95" x2="199.08" y2="270.60" stroke="#1a1a1a" stroke-width="0.8"/>
<line x1="198.08" y1="250.95" x2="200.08" y2="250.95" stroke="#1a1a1a" stroke-width="0.8"/>
<line x1="198.08" y1="270.60" x2="200.08" y2="270.60" stroke="#1a1a1a" stroke-width="0.8"/>
<line x1="227.01" y1="213.28" x2="227.01" y2="240.79" stroke="#1a1a1a" stroke-width="0.8"/>
<line x1="226.01" y1="213.28" x2="228.01" y2="213.28" stroke="#1a1a1a" stroke-width="0.8"/>
<line x1="226.01" y1="240.79" x2="228.01" y2="240.79" stroke="#1a1a1a" stroke-width="0.8"/>
<line x1="227.01" y1="331.68" x2="227.01" y2="342.81" stroke="#1a1a1a" stroke-width="0.8"/>
<line x1="226.01" y1="331.68" x2="228.01" y2="331.68" stroke="#1a1a1a" stroke-width="0.8"/>
<line x1="226.01" y1="342.81" x2="228.01" y2="342.81" stroke="#1a1a1a" stroke-width="0.8"/>
<rect x="29.70" y="334.79" width="3.6" height="3.6" rx="0.3" fill="#000" stroke="#000" stroke-width="0.8"/>
<rect x="66.94" y="331.84" width="3.6" height="3.6" rx="0.3" fill="#000" stroke="#000" stroke-width="0.8"/>
<rect x="94.87" y="323.95" width="3.6" height="3.6" rx="0.3" fill="#000" stroke="#000" stroke-width="0.8"/>
<rect x="132.11" y="310.72" width="3.6" height="3.6" rx="0.3" fill="#000" stroke="#000" stroke-width="0.8"/>
<rect x="160.04" y="292.44" width="3.6" height="3.6" rx="0.3" fill="#000" stroke="#000" stroke-width="0.8"/>
<rect x="197.28" y="258.97" width="3.6" height="3.6" rx="0.3" fill="#000" stroke="#000" stroke-width="0.8"/>
<rect x="225.21" y="225.24" width="3.6" height="3.6" rx="0.3" fill="#000" stroke="#000" stroke-width="0.8"/>
<circle cx="31.50" cy="336.59" r="2.0" fill="#fff" stroke="#000" stroke-width="0.8"/>
<circle cx="68.74" cy="337.01" r="2.0" fill="#fff" stroke="#000" stroke-width="0.8"/>
<circle cx="96.67" cy="338.75" r="2.0" fill="#fff" stroke="#000" stroke-width="0.8"/>
<circle cx="133.91" cy="338.75" r="2.0" fill="#fff" stroke="#000" stroke-width="0.8"/>
<circle cx="161.84" cy="338.55" r="2.0" fill="#fff" stroke="#000" stroke-width="0.8"/>
<circle cx="199.08" cy="336.75" r="2.0" fill="#fff" stroke="#000" stroke-width="0.8"/>
<circle cx="227.01" cy="336.75" r="2.0" fill="#fff" stroke="#000" stroke-width="0.8"/>
<text x="237.50" y="228.80" font-size="6.3" font-weight="bold" text-anchor="middle" stroke="#000" stroke-width="0.3"  letter-spacing="0.12">100</text>
<text x="238.00" y="339.80" font-size="6.3" font-weight="bold" text-anchor="middle" stroke="#000" stroke-width="0.3"  letter-spacing="0.12">0</text>
<text x="227.00" y="333.00" font-size="9" font-weight="bold" text-anchor="middle" stroke="#000" stroke-width="0.3" >*</text>
<line x1="241.80" y1="341.30" x2="251.80" y2="341.30" stroke="#555" stroke-width="0.8"/>
<text x="260.70" y="202.30" font-size="12.4" font-weight="bold" text-anchor="start" stroke="#000" stroke-width="0.5" >D</text>
<rect x="347.1" y="193.9" width="111.79999999999995" height="7.699999999999989" fill="#fff" stroke="#000" stroke-width="0.7"/>
<line x1="348.90" y1="197.75" x2="358.90" y2="197.75" stroke="#000" stroke-width="1.0"/>
<rect x="352.15" y="196.00" width="3.5" height="3.5" rx="0.3" fill="#000" stroke="#000" stroke-width="0.8"/>
<text x="360.00" y="199.95" font-size="6.2" font-weight="bold" text-anchor="start" stroke="#000" stroke-width="0.3"  textLength="22" lengthAdjust="spacing">Vehicle</text>
<line x1="384.60" y1="197.75" x2="394.60" y2="197.75" stroke="#000" stroke-width="1.0"/>
<circle cx="389.60" cy="197.75" r="1.8" fill="#fff" stroke="#000" stroke-width="0.8"/>
<text x="395.90" y="199.95" font-size="6.2" font-weight="bold" text-anchor="start" stroke="#000" stroke-width="0.3"  textLength="61.3" lengthAdjust="spacing">STA-9090 (25 mg/kg)</text>
<line x1="289.40" y1="210.85" x2="289.40" y2="344.90" stroke="#000" stroke-width="0.8"/>
<line x1="289.40" y1="344.90" x2="516.62" y2="344.90" stroke="#000" stroke-width="0.8"/>
<line x1="289.40" y1="276.25" x2="516.62" y2="276.25" stroke="#444" stroke-width="0.8"/>
<line x1="286.60" y1="341.65" x2="289.40" y2="341.65" stroke="#000" stroke-width="0.8"/>
<text x="284.00" y="344.25" font-size="6.1" font-weight="bold" text-anchor="end" stroke="#000" stroke-width="0.3"  letter-spacing="0.12">-20</text>
<line x1="286.60" y1="325.30" x2="289.40" y2="325.30" stroke="#000" stroke-width="0.8"/>
<text x="284.00" y="327.90" font-size="6.1" font-weight="bold" text-anchor="end" stroke="#000" stroke-width="0.3"  letter-spacing="0.12">-15</text>
<line x1="286.60" y1="308.95" x2="289.40" y2="308.95" stroke="#000" stroke-width="0.8"/>
<text x="284.00" y="311.55" font-size="6.1" font-weight="bold" text-anchor="end" stroke="#000" stroke-width="0.3"  letter-spacing="0.12">-10</text>
<line x1="286.60" y1="292.60" x2="289.40" y2="292.60" stroke="#000" stroke-width="0.8"/>
<text x="284.00" y="295.20" font-size="6.1" font-weight="bold" text-anchor="end" stroke="#000" stroke-width="0.3"  letter-spacing="0.12">-5</text>
<line x1="286.60" y1="276.25" x2="289.40" y2="276.25" stroke="#000" stroke-width="0.8"/>
<text x="284.00" y="278.85" font-size="6.1" font-weight="bold" text-anchor="end" stroke="#000" stroke-width="0.3"  letter-spacing="0.12">0</text>
<line x1="286.60" y1="259.90" x2="289.40" y2="259.90" stroke="#000" stroke-width="0.8"/>
<text x="284.00" y="262.50" font-size="6.1" font-weight="bold" text-anchor="end" stroke="#000" stroke-width="0.3"  letter-spacing="0.12">5</text>
<line x1="286.60" y1="243.55" x2="289.40" y2="243.55" stroke="#000" stroke-width="0.8"/>
<text x="284.00" y="246.15" font-size="6.1" font-weight="bold" text-anchor="end" stroke="#000" stroke-width="0.3"  letter-spacing="0.12">10</text>
<line x1="286.60" y1="227.20" x2="289.40" y2="227.20" stroke="#000" stroke-width="0.8"/>
<text x="284.00" y="229.80" font-size="6.1" font-weight="bold" text-anchor="end" stroke="#000" stroke-width="0.3"  letter-spacing="0.12">15</text>
<line x1="286.60" y1="210.85" x2="289.40" y2="210.85" stroke="#000" stroke-width="0.8"/>
<text x="284.00" y="213.45" font-size="6.1" font-weight="bold" text-anchor="end" stroke="#000" stroke-width="0.3"  letter-spacing="0.12">20</text>
<line x1="289.40" y1="339.90" x2="289.40" y2="344.90" stroke="#000" stroke-width="0.8"/>
<text x="289.40" y="353.80" font-size="6.3" font-weight="bold" text-anchor="middle" stroke="#000" stroke-width="0.3"  letter-spacing="0.12">30</text>
<line x1="321.86" y1="339.90" x2="321.86" y2="344.90" stroke="#000" stroke-width="0.8"/>
<text x="321.86" y="353.80" font-size="6.3" font-weight="bold" text-anchor="middle" stroke="#000" stroke-width="0.3"  letter-spacing="0.12">33</text>
<line x1="354.32" y1="339.90" x2="354.32" y2="344.90" stroke="#000" stroke-width="0.8"/>
<text x="354.32" y="353.80" font-size="6.3" font-weight="bold" text-anchor="middle" stroke="#000" stroke-width="0.3"  letter-spacing="0.12">36</text>
<line x1="386.78" y1="339.90" x2="386.78" y2="344.90" stroke="#000" stroke-width="0.8"/>
<text x="386.78" y="353.80" font-size="6.3" font-weight="bold" text-anchor="middle" stroke="#000" stroke-width="0.3"  letter-spacing="0.12">39</text>
<line x1="419.24" y1="339.90" x2="419.24" y2="344.90" stroke="#000" stroke-width="0.8"/>
<text x="419.24" y="353.80" font-size="6.3" font-weight="bold" text-anchor="middle" stroke="#000" stroke-width="0.3"  letter-spacing="0.12">42</text>
<line x1="451.70" y1="339.90" x2="451.70" y2="344.90" stroke="#000" stroke-width="0.8"/>
<text x="451.70" y="353.80" font-size="6.3" font-weight="bold" text-anchor="middle" stroke="#000" stroke-width="0.3"  letter-spacing="0.12">45</text>
<line x1="484.16" y1="339.90" x2="484.16" y2="344.90" stroke="#000" stroke-width="0.8"/>
<text x="484.16" y="353.80" font-size="6.3" font-weight="bold" text-anchor="middle" stroke="#000" stroke-width="0.3"  letter-spacing="0.12">48</text>
<line x1="516.62" y1="339.90" x2="516.62" y2="344.90" stroke="#000" stroke-width="0.8"/>
<text x="516.62" y="353.80" font-size="6.3" font-weight="bold" text-anchor="middle" stroke="#000" stroke-width="0.3"  letter-spacing="0.12">51</text>
<text transform="translate(270.2,275.7) rotate(-90)" font-size="7.0" font-weight="bold" stroke="#000" stroke-width="0.3" text-anchor="middle">Body Weight Change (%)</text>
<text x="402.40" y="364.50" font-size="6.9" font-weight="bold" text-anchor="middle" stroke="#000" stroke-width="0.3"  textLength="102.9" lengthAdjust="spacing">Days After Tumor Implantation</text>
<text x="401.40" y="222.00" font-size="6.9" font-weight="bold" text-anchor="middle" stroke="#000" stroke-width="0.3"  textLength="31.5" lengthAdjust="spacing">Kasumi-1</text>
<polyline fill="none" stroke="#000" stroke-width="1.1" stroke-linejoin="round" points="289.40,276.25 321.86,274.62 332.68,272.98 343.50,272.98 354.32,278.87 365.14,287.69 397.60,269.71 408.42,272.98 419.24,273.63 430.06,265.79 440.88,273.63 473.34,267.75 484.16,265.79 494.98,278.87 505.80,273.96"/>
<polyline fill="none" stroke="#000" stroke-width="1.4" stroke-linejoin="round" points="289.40,276.25 321.86,274.62 332.68,274.62 343.50,268.07 354.32,272.98 365.14,267.75 397.60,259.90 408.42,252.38 419.24,251.40 430.06,253.36 440.88,251.40 473.34,238.65 484.16,229.82 494.98,229.49 505.80,222.95"/>
<line x1="321.86" y1="271.35" x2="321.86" y2="277.88" stroke="#1a1a1a" stroke-width="0.8"/>
<line x1="320.86" y1="271.35" x2="322.86" y2="271.35" stroke="#1a1a1a" stroke-width="0.8"/>
<line x1="320.86" y1="277.88" x2="322.86" y2="277.88" stroke="#1a1a1a" stroke-width="0.8"/>
<line x1="321.86" y1="268.40" x2="321.86" y2="280.17" stroke="#1a1a1a" stroke-width="0.8"/>
<line x1="320.86" y1="268.40" x2="322.86" y2="268.40" stroke="#1a1a1a" stroke-width="0.8"/>
<line x1="320.86" y1="280.17" x2="322.86" y2="280.17" stroke="#1a1a1a" stroke-width="0.8"/>
<line x1="332.68" y1="271.35" x2="332.68" y2="277.88" stroke="#1a1a1a" stroke-width="0.8"/>
<line x1="331.68" y1="271.35" x2="333.68" y2="271.35" stroke="#1a1a1a" stroke-width="0.8"/>
<line x1="331.68" y1="277.88" x2="333.68" y2="277.88" stroke="#1a1a1a" stroke-width="0.8"/>
<line x1="332.68" y1="266.77" x2="332.68" y2="278.54" stroke="#1a1a1a" stroke-width="0.8"/>
<line x1="331.68" y1="266.77" x2="333.68" y2="266.77" stroke="#1a1a1a" stroke-width="0.8"/>
<line x1="331.68" y1="278.54" x2="333.68" y2="278.54" stroke="#1a1a1a" stroke-width="0.8"/>
<line x1="343.50" y1="264.81" x2="343.50" y2="271.35" stroke="#1a1a1a" stroke-width="0.8"/>
<line x1="342.50" y1="264.81" x2="344.50" y2="264.81" stroke="#1a1a1a" stroke-width="0.8"/>
<line x1="342.50" y1="271.35" x2="344.50" y2="271.35" stroke="#1a1a1a" stroke-width="0.8"/>
<line x1="343.50" y1="266.77" x2="343.50" y2="278.54" stroke="#1a1a1a" stroke-width="0.8"/>
<line x1="342.50" y1="266.77" x2="344.50" y2="266.77" stroke="#1a1a1a" stroke-width="0.8"/>
<line x1="342.50" y1="278.54" x2="344.50" y2="278.54" stroke="#1a1a1a" stroke-width="0.8"/>
<line x1="354.32" y1="269.71" x2="354.32" y2="276.25" stroke="#1a1a1a" stroke-width="0.8"/>
<line x1="353.32" y1="269.71" x2="355.32" y2="269.71" stroke="#1a1a1a" stroke-width="0.8"/>
<line x1="353.32" y1="276.25" x2="355.32" y2="276.25" stroke="#1a1a1a" stroke-width="0.8"/>
<line x1="354.32" y1="272.65" x2="354.32" y2="284.43" stroke="#1a1a1a" stroke-width="0.8"/>
<line x1="353.32" y1="272.65" x2="355.32" y2="272.65" stroke="#1a1a1a" stroke-width="0.8"/>
<line x1="353.32" y1="284.43" x2="355.32" y2="284.43" stroke="#1a1a1a" stroke-width="0.8"/>
<line x1="365.14" y1="264.48" x2="365.14" y2="271.02" stroke="#1a1a1a" stroke-width="0.8"/>
<line x1="364.14" y1="264.48" x2="366.14" y2="264.48" stroke="#1a1a1a" stroke-width="0.8"/>
<line x1="364.14" y1="271.02" x2="366.14" y2="271.02" stroke="#1a1a1a" stroke-width="0.8"/>
<line x1="365.14" y1="281.48" x2="365.14" y2="293.25" stroke="#1a1a1a" stroke-width="0.8"/>
<line x1="364.14" y1="281.48" x2="366.14" y2="281.48" stroke="#1a1a1a" stroke-width="0.8"/>
<line x1="364.14" y1="293.25" x2="366.14" y2="293.25" stroke="#1a1a1a" stroke-width="0.8"/>
<line x1="397.60" y1="254.67" x2="397.60" y2="265.13" stroke="#1a1a1a" stroke-width="0.8"/>
<line x1="396.60" y1="254.67" x2="398.60" y2="254.67" stroke="#1a1a1a" stroke-width="0.8"/>
<line x1="396.60" y1="265.13" x2="398.60" y2="265.13" stroke="#1a1a1a" stroke-width="0.8"/>
<line x1="397.60" y1="263.50" x2="397.60" y2="275.27" stroke="#1a1a1a" stroke-width="0.8"/>
<line x1="396.60" y1="263.50" x2="398.60" y2="263.50" stroke="#1a1a1a" stroke-width="0.8"/>
<line x1="396.60" y1="275.27" x2="398.60" y2="275.27" stroke="#1a1a1a" stroke-width="0.8"/>
<line x1="408.42" y1="247.15" x2="408.42" y2="257.61" stroke="#1a1a1a" stroke-width="0.8"/>
<line x1="407.42" y1="247.15" x2="409.42" y2="247.15" stroke="#1a1a1a" stroke-width="0.8"/>
<line x1="407.42" y1="257.61" x2="409.42" y2="257.61" stroke="#1a1a1a" stroke-width="0.8"/>
<line x1="408.42" y1="266.77" x2="408.42" y2="278.54" stroke="#1a1a1a" stroke-width="0.8"/>
<line x1="407.42" y1="266.77" x2="409.42" y2="266.77" stroke="#1a1a1a" stroke-width="0.8"/>
<line x1="407.42" y1="278.54" x2="409.42" y2="278.54" stroke="#1a1a1a" stroke-width="0.8"/>
<line x1="419.24" y1="246.17" x2="419.24" y2="256.63" stroke="#1a1a1a" stroke-width="0.8"/>
<line x1="418.24" y1="246.17" x2="420.24" y2="246.17" stroke="#1a1a1a" stroke-width="0.8"/>
<line x1="418.24" y1="256.63" x2="420.24" y2="256.63" stroke="#1a1a1a" stroke-width="0.8"/>
<line x1="419.24" y1="267.42" x2="419.24" y2="279.19" stroke="#1a1a1a" stroke-width="0.8"/>
<line x1="418.24" y1="267.42" x2="420.24" y2="267.42" stroke="#1a1a1a" stroke-width="0.8"/>
<line x1="418.24" y1="279.19" x2="420.24" y2="279.19" stroke="#1a1a1a" stroke-width="0.8"/>
<line x1="430.06" y1="248.13" x2="430.06" y2="258.59" stroke="#1a1a1a" stroke-width="0.8"/>
<line x1="429.06" y1="248.13" x2="431.06" y2="248.13" stroke="#1a1a1a" stroke-width="0.8"/>
<line x1="429.06" y1="258.59" x2="431.06" y2="258.59" stroke="#1a1a1a" stroke-width="0.8"/>
<line x1="430.06" y1="259.57" x2="430.06" y2="271.35" stroke="#1a1a1a" stroke-width="0.8"/>
<line x1="429.06" y1="259.57" x2="431.06" y2="259.57" stroke="#1a1a1a" stroke-width="0.8"/>
<line x1="429.06" y1="271.35" x2="431.06" y2="271.35" stroke="#1a1a1a" stroke-width="0.8"/>
<line x1="440.88" y1="246.17" x2="440.88" y2="256.63" stroke="#1a1a1a" stroke-width="0.8"/>
<line x1="439.88" y1="246.17" x2="441.88" y2="246.17" stroke="#1a1a1a" stroke-width="0.8"/>
<line x1="439.88" y1="256.63" x2="441.88" y2="256.63" stroke="#1a1a1a" stroke-width="0.8"/>
<line x1="440.88" y1="267.42" x2="440.88" y2="279.19" stroke="#1a1a1a" stroke-width="0.8"/>
<line x1="439.88" y1="267.42" x2="441.88" y2="267.42" stroke="#1a1a1a" stroke-width="0.8"/>
<line x1="439.88" y1="279.19" x2="441.88" y2="279.19" stroke="#1a1a1a" stroke-width="0.8"/>
<line x1="473.34" y1="233.41" x2="473.34" y2="243.88" stroke="#1a1a1a" stroke-width="0.8"/>
<line x1="472.34" y1="233.41" x2="474.34" y2="233.41" stroke="#1a1a1a" stroke-width="0.8"/>
<line x1="472.34" y1="243.88" x2="474.34" y2="243.88" stroke="#1a1a1a" stroke-width="0.8"/>
<line x1="473.34" y1="261.54" x2="473.34" y2="273.31" stroke="#1a1a1a" stroke-width="0.8"/>
<line x1="472.34" y1="261.54" x2="474.34" y2="261.54" stroke="#1a1a1a" stroke-width="0.8"/>
<line x1="472.34" y1="273.31" x2="474.34" y2="273.31" stroke="#1a1a1a" stroke-width="0.8"/>
<line x1="484.16" y1="224.58" x2="484.16" y2="235.05" stroke="#1a1a1a" stroke-width="0.8"/>
<line x1="483.16" y1="224.58" x2="485.16" y2="224.58" stroke="#1a1a1a" stroke-width="0.8"/>
<line x1="483.16" y1="235.05" x2="485.16" y2="235.05" stroke="#1a1a1a" stroke-width="0.8"/>
<line x1="484.16" y1="259.57" x2="484.16" y2="271.35" stroke="#1a1a1a" stroke-width="0.8"/>
<line x1="483.16" y1="259.57" x2="485.16" y2="259.57" stroke="#1a1a1a" stroke-width="0.8"/>
<line x1="483.16" y1="271.35" x2="485.16" y2="271.35" stroke="#1a1a1a" stroke-width="0.8"/>
<line x1="494.98" y1="224.26" x2="494.98" y2="234.72" stroke="#1a1a1a" stroke-width="0.8"/>
<line x1="493.98" y1="224.26" x2="495.98" y2="224.26" stroke="#1a1a1a" stroke-width="0.8"/>
<line x1="493.98" y1="234.72" x2="495.98" y2="234.72" stroke="#1a1a1a" stroke-width="0.8"/>
<line x1="494.98" y1="272.65" x2="494.98" y2="284.43" stroke="#1a1a1a" stroke-width="0.8"/>
<line x1="493.98" y1="272.65" x2="495.98" y2="272.65" stroke="#1a1a1a" stroke-width="0.8"/>
<line x1="493.98" y1="284.43" x2="495.98" y2="284.43" stroke="#1a1a1a" stroke-width="0.8"/>
<line x1="505.80" y1="217.72" x2="505.80" y2="228.18" stroke="#1a1a1a" stroke-width="0.8"/>
<line x1="504.80" y1="217.72" x2="506.80" y2="217.72" stroke="#1a1a1a" stroke-width="0.8"/>
<line x1="504.80" y1="228.18" x2="506.80" y2="228.18" stroke="#1a1a1a" stroke-width="0.8"/>
<line x1="505.80" y1="267.75" x2="505.80" y2="279.52" stroke="#1a1a1a" stroke-width="0.8"/>
<line x1="504.80" y1="267.75" x2="506.80" y2="267.75" stroke="#1a1a1a" stroke-width="0.8"/>
<line x1="504.80" y1="279.52" x2="506.80" y2="279.52" stroke="#1a1a1a" stroke-width="0.8"/>
<rect x="287.65" y="274.50" width="3.5" height="3.5" rx="0.3" fill="#000" stroke="#000" stroke-width="0.8"/>
<rect x="320.11" y="272.87" width="3.5" height="3.5" rx="0.3" fill="#000" stroke="#000" stroke-width="0.8"/>
<rect x="330.93" y="272.87" width="3.5" height="3.5" rx="0.3" fill="#000" stroke="#000" stroke-width="0.8"/>
<rect x="341.75" y="266.32" width="3.5" height="3.5" rx="0.3" fill="#000" stroke="#000" stroke-width="0.8"/>
<rect x="352.57" y="271.23" width="3.5" height="3.5" rx="0.3" fill="#000" stroke="#000" stroke-width="0.8"/>
<rect x="363.39" y="266.00" width="3.5" height="3.5" rx="0.3" fill="#000" stroke="#000" stroke-width="0.8"/>
<rect x="395.85" y="258.15" width="3.5" height="3.5" rx="0.3" fill="#000" stroke="#000" stroke-width="0.8"/>
<rect x="406.67" y="250.63" width="3.5" height="3.5" rx="0.3" fill="#000" stroke="#000" stroke-width="0.8"/>
<rect x="417.49" y="249.65" width="3.5" height="3.5" rx="0.3" fill="#000" stroke="#000" stroke-width="0.8"/>
<rect x="428.31" y="251.61" width="3.5" height="3.5" rx="0.3" fill="#000" stroke="#000" stroke-width="0.8"/>
<rect x="439.13" y="249.65" width="3.5" height="3.5" rx="0.3" fill="#000" stroke="#000" stroke-width="0.8"/>
<rect x="471.59" y="236.90" width="3.5" height="3.5" rx="0.3" fill="#000" stroke="#000" stroke-width="0.8"/>
<rect x="482.41" y="228.07" width="3.5" height="3.5" rx="0.3" fill="#000" stroke="#000" stroke-width="0.8"/>
<rect x="493.23" y="227.74" width="3.5" height="3.5" rx="0.3" fill="#000" stroke="#000" stroke-width="0.8"/>
<rect x="504.05" y="221.20" width="3.5" height="3.5" rx="0.3" fill="#000" stroke="#000" stroke-width="0.8"/>
<circle cx="289.40" cy="276.25" r="1.85" fill="#fff" stroke="#000" stroke-width="0.8"/>
<circle cx="321.86" cy="274.62" r="1.85" fill="#fff" stroke="#000" stroke-width="0.8"/>
<circle cx="332.68" cy="272.98" r="1.85" fill="#fff" stroke="#000" stroke-width="0.8"/>
<circle cx="343.50" cy="272.98" r="1.85" fill="#fff" stroke="#000" stroke-width="0.8"/>
<circle cx="354.32" cy="278.87" r="1.85" fill="#fff" stroke="#000" stroke-width="0.8"/>
<circle cx="365.14" cy="287.69" r="1.85" fill="#fff" stroke="#000" stroke-width="0.8"/>
<circle cx="397.60" cy="269.71" r="1.85" fill="#fff" stroke="#000" stroke-width="0.8"/>
<circle cx="408.42" cy="272.98" r="1.85" fill="#fff" stroke="#000" stroke-width="0.8"/>
<circle cx="419.24" cy="273.63" r="1.85" fill="#fff" stroke="#000" stroke-width="0.8"/>
<circle cx="430.06" cy="265.79" r="1.85" fill="#fff" stroke="#000" stroke-width="0.8"/>
<circle cx="440.88" cy="273.63" r="1.85" fill="#fff" stroke="#000" stroke-width="0.8"/>
<circle cx="473.34" cy="267.75" r="1.85" fill="#fff" stroke="#000" stroke-width="0.8"/>
<circle cx="484.16" cy="265.79" r="1.85" fill="#fff" stroke="#000" stroke-width="0.8"/>
<circle cx="494.98" cy="278.87" r="1.85" fill="#fff" stroke="#000" stroke-width="0.8"/>
<circle cx="505.80" cy="273.96" r="1.85" fill="#fff" stroke="#000" stroke-width="0.8"/>
<text x="83.50" y="390.60" font-size="10.8" font-weight="bold" text-anchor="start" stroke="#000" stroke-width="0.5" >E</text>
<text x="115.30" y="405.20" font-size="8.9" font-weight="normal" text-anchor="end"  fill="#222">Tumor#</text>
<text x="114.50" y="423.65" font-size="8.9" font-weight="normal" text-anchor="end"  fill="#222">WT1</text>
<text x="114.50" y="447.90" font-size="8.9" font-weight="normal" text-anchor="end"  fill="#222">c-Myc</text>
<text x="114.50" y="471.75" font-size="8.9" font-weight="normal" text-anchor="end"  fill="#222">Bcl-2</text>
<text x="114.50" y="496.35" font-size="8.9" font-weight="normal" text-anchor="end"  fill="#222">β-actin</text>
<text x="172.10" y="388.00" font-size="8.9" font-weight="normal" text-anchor="middle"  fill="#222" textLength="30.6" lengthAdjust="spacing">Vehicle</text>
<line x1="121.20" y1="393.30" x2="225.80" y2="393.30" stroke="#222" stroke-width="0.9"/>
<text x="134.20" y="405.20" font-size="8.9" font-weight="normal" text-anchor="middle"  fill="#222">1</text>
<text x="159.35" y="405.20" font-size="8.9" font-weight="normal" text-anchor="middle"  fill="#222">2</text>
<text x="184.50" y="405.20" font-size="8.9" font-weight="normal" text-anchor="middle"  fill="#222">3</text>
<text x="209.65" y="405.20" font-size="8.9" font-weight="normal" text-anchor="middle"  fill="#222">4</text>
<clipPath id="c00"><rect x="121.2" y="410.6" width="104.60000000000001" height="20.099999999999966"/></clipPath>
<rect x="121.2" y="410.6" width="104.60000000000001" height="20.099999999999966" fill="#fff"/>
<g clip-path="url(#c00)">
<rect x="124.2" y="415.5" width="20.0" height="5.0" rx="2.5" fill="#000" opacity="0.95" filter="url(#b1)"/>
<rect x="150.3" y="416.2" width="18.0" height="4.5" rx="2.2" fill="#000" opacity="0.85" filter="url(#b1)"/>
<rect x="174.0" y="415.4" width="21.0" height="6.0" rx="3.0" fill="#000" opacity="1" filter="url(#b1)"/>
<rect x="201.1" y="416.6" width="17.0" height="4.5" rx="2.2" fill="#000" opacity="0.75" filter="url(#b1)"/>
</g>
<rect x="121.2" y="410.6" width="104.60000000000001" height="20.099999999999966" fill="none" stroke="#000" stroke-width="0.9"/>
<clipPath id="c01"><rect x="121.2" y="434.8" width="104.60000000000001" height="20.19999999999999"/></clipPath>
<rect x="121.2" y="434.8" width="104.60000000000001" height="20.19999999999999" fill="#d2d2d2"/>
<g clip-path="url(#c01)">
<rect x="122.7" y="439.0" width="23.0" height="4.2" rx="2.1" fill="#000" opacity="0.6" filter="url(#b2)"/>
<rect x="122.7" y="446.3" width="23.0" height="5.5" rx="2.8" fill="#000" opacity="0.75" filter="url(#b2)"/>
<rect x="123.2" y="444.3" width="22.0" height="1.6" rx="0.8" fill="#000" opacity="0.3" filter="url(#b2)"/>
<rect x="147.8" y="439.0" width="23.0" height="4.2" rx="2.1" fill="#000" opacity="0.7" filter="url(#b2)"/>
<rect x="147.8" y="446.3" width="23.0" height="5.5" rx="2.8" fill="#000" opacity="0.85" filter="url(#b2)"/>
<rect x="148.3" y="444.3" width="22.0" height="1.6" rx="0.8" fill="#000" opacity="0.35" filter="url(#b2)"/>
<rect x="173.0" y="439.0" width="23.0" height="4.2" rx="2.1" fill="#000" opacity="0.7" filter="url(#b2)"/>
<rect x="173.0" y="446.3" width="23.0" height="5.5" rx="2.8" fill="#000" opacity="0.85" filter="url(#b2)"/>
<rect x="173.5" y="444.3" width="22.0" height="1.6" rx="0.8" fill="#000" opacity="0.35" filter="url(#b2)"/>
<rect x="198.1" y="439.0" width="23.0" height="4.2" rx="2.1" fill="#000" opacity="0.6" filter="url(#b2)"/>
<rect x="198.1" y="446.3" width="23.0" height="5.5" rx="2.8" fill="#000" opacity="0.75" filter="url(#b2)"/>
<rect x="198.6" y="444.3" width="22.0" height="1.6" rx="0.8" fill="#000" opacity="0.3" filter="url(#b2)"/>
</g>
<rect x="121.2" y="434.8" width="104.60000000000001" height="20.19999999999999" fill="none" stroke="#000" stroke-width="0.9"/>
<clipPath id="c02"><rect x="121.2" y="459.0" width="104.60000000000001" height="19.5"/></clipPath>
<rect x="121.2" y="459.0" width="104.60000000000001" height="19.5" fill="#fff"/>
<g clip-path="url(#c02)">
<rect x="123.7" y="465.1" width="19.0" height="3.8" rx="1.9" fill="#000" opacity="0.95" filter="url(#b1)"/>
<rect x="148.8" y="467.1" width="19.0" height="3.8" rx="1.9" fill="#000" opacity="0.95" filter="url(#b1)"/>
<rect x="174.0" y="468.7" width="19.0" height="3.8" rx="1.9" fill="#000" opacity="0.95" filter="url(#b1)"/>
<rect x="199.1" y="469.5" width="19.0" height="3.8" rx="1.9" fill="#000" opacity="0.95" filter="url(#b1)"/>
</g>
<rect x="121.2" y="459.0" width="104.60000000000001" height="19.5" fill="none" stroke="#000" stroke-width="0.9"/>
<clipPath id="c03"><rect x="121.2" y="485.4" width="104.60000000000001" height="15.900000000000034"/></clipPath>
<rect x="121.2" y="485.4" width="104.60000000000001" height="15.900000000000034" fill="#fff"/>
<g clip-path="url(#c03)">
<rect x="121.7" y="491.8" width="25.0" height="4.2" rx="2.1" fill="#000" opacity="1" filter="url(#b1)"/>
<rect x="146.8" y="491.8" width="25.0" height="4.2" rx="2.1" fill="#000" opacity="1" filter="url(#b1)"/>
<rect x="172.0" y="491.8" width="25.0" height="4.2" rx="2.1" fill="#000" opacity="1" filter="url(#b1)"/>
<rect x="197.1" y="491.8" width="25.0" height="4.2" rx="2.1" fill="#000" opacity="1" filter="url(#b1)"/>
<rect x="124.2" y="492.6" width="98.6" height="2.5" rx="1.3" fill="#000" opacity="1" filter="url(#b1)"/>
</g>
<rect x="121.2" y="485.4" width="104.60000000000001" height="15.900000000000034" fill="none" stroke="#000" stroke-width="0.9"/>
<text x="288.40" y="388.00" font-size="8.9" font-weight="normal" text-anchor="middle"  fill="#222" textLength="31.2" lengthAdjust="spacing">17-AAG</text>
<line x1="233.80" y1="393.30" x2="339.40" y2="393.30" stroke="#222" stroke-width="0.9"/>
<text x="246.40" y="405.20" font-size="8.9" font-weight="normal" text-anchor="middle"  fill="#222">1</text>
<text x="271.55" y="405.20" font-size="8.9" font-weight="normal" text-anchor="middle"  fill="#222">2</text>
<text x="296.70" y="405.20" font-size="8.9" font-weight="normal" text-anchor="middle"  fill="#222">3</text>
<text x="321.85" y="405.20" font-size="8.9" font-weight="normal" text-anchor="middle"  fill="#222">4</text>
<clipPath id="c10"><rect x="233.8" y="410.6" width="105.59999999999997" height="20.099999999999966"/></clipPath>
<rect x="233.8" y="410.6" width="105.59999999999997" height="20.099999999999966" fill="#fff"/>
<g clip-path="url(#c10)">
<rect x="289.2" y="420.4" width="15.0" height="2.8" rx="1.4" fill="#000" opacity="0.7" filter="url(#b1)"/>
<rect x="309.9" y="417.1" width="23.0" height="3.8" rx="1.9" fill="#000" opacity="0.95" filter="url(#b1)"/>
</g>
<rect x="233.8" y="410.6" width="105.59999999999997" height="20.099999999999966" fill="none" stroke="#000" stroke-width="0.9"/>
<clipPath id="c11"><rect x="233.8" y="434.8" width="105.59999999999997" height="20.19999999999999"/></clipPath>
<rect x="233.8" y="434.8" width="105.59999999999997" height="20.19999999999999" fill="#f6f6f6"/>
<g clip-path="url(#c11)">
<rect x="236.4" y="439.4" width="20.0" height="5.0" rx="2.5" fill="#000" opacity="0.1" filter="url(#b2)"/>
<rect x="236.4" y="447.6" width="20.0" height="3.4" rx="1.7" fill="#000" opacity="0.08000000000000002" filter="url(#b2)"/>
<rect x="261.6" y="439.4" width="20.0" height="5.0" rx="2.5" fill="#000" opacity="0.35" filter="url(#b2)"/>
<rect x="261.6" y="447.6" width="20.0" height="3.4" rx="1.7" fill="#000" opacity="0.27999999999999997" filter="url(#b2)"/>
<rect x="286.7" y="439.4" width="20.0" height="5.0" rx="2.5" fill="#000" opacity="0.5" filter="url(#b2)"/>
<rect x="286.7" y="447.6" width="20.0" height="3.4" rx="1.7" fill="#000" opacity="0.4" filter="url(#b2)"/>
<rect x="311.9" y="439.4" width="20.0" height="5.0" rx="2.5" fill="#000" opacity="0.7" filter="url(#b2)"/>
<rect x="311.9" y="447.6" width="20.0" height="3.4" rx="1.7" fill="#000" opacity="0.5599999999999999" filter="url(#b2)"/>
</g>
<rect x="233.8" y="434.8" width="105.59999999999997" height="20.19999999999999" fill="none" stroke="#000" stroke-width="0.9"/>
<clipPath id="c12"><rect x="233.8" y="459.0" width="105.59999999999997" height="19.5"/></clipPath>
<rect x="233.8" y="459.0" width="105.59999999999997" height="19.5" fill="#fff"/>
<g clip-path="url(#c12)">
<rect x="241.9" y="468.6" width="9.0" height="3.2" rx="1.6" fill="#000" opacity="0.12" filter="url(#b1)"/>
<rect x="262.6" y="469.5" width="18.0" height="3.2" rx="1.6" fill="#000" opacity="0.85" filter="url(#b1)"/>
<rect x="287.7" y="470.1" width="18.0" height="3.2" rx="1.6" fill="#000" opacity="0.8" filter="url(#b1)"/>
<rect x="314.4" y="470.5" width="15.0" height="3.2" rx="1.6" fill="#000" opacity="0.4" filter="url(#b1)"/>
</g>
<rect x="233.8" y="459.0" width="105.59999999999997" height="19.5" fill="none" stroke="#000" stroke-width="0.9"/>
<clipPath id="c13"><rect x="233.8" y="485.4" width="105.59999999999997" height="15.900000000000034"/></clipPath>
<rect x="233.8" y="485.4" width="105.59999999999997" height="15.900000000000034" fill="#fff"/>
<g clip-path="url(#c13)">
<rect x="233.9" y="491.4" width="25.0" height="5.0" rx="2.5" fill="#000" opacity="1" filter="url(#b1)"/>
<rect x="259.1" y="491.4" width="25.0" height="5.0" rx="2.5" fill="#000" opacity="1" filter="url(#b1)"/>
<rect x="284.2" y="491.4" width="25.0" height="5.0" rx="2.5" fill="#000" opacity="1" filter="url(#b1)"/>
<rect x="309.4" y="491.4" width="25.0" height="5.0" rx="2.5" fill="#000" opacity="1" filter="url(#b1)"/>
<rect x="236.8" y="492.4" width="99.6" height="3.0" rx="1.5" fill="#000" opacity="1" filter="url(#b1)"/>
</g>
<rect x="233.8" y="485.4" width="105.59999999999997" height="15.900000000000034" fill="none" stroke="#000" stroke-width="0.9"/>
<text x="396.20" y="388.00" font-size="8.9" font-weight="normal" text-anchor="middle"  fill="#222" textLength="39.5" lengthAdjust="spacing">STA-9090</text>
<line x1="347.60" y1="393.30" x2="453.50" y2="393.30" stroke="#222" stroke-width="0.9"/>
<text x="362.40" y="405.20" font-size="8.9" font-weight="normal" text-anchor="middle"  fill="#222">1</text>
<text x="387.55" y="405.20" font-size="8.9" font-weight="normal" text-anchor="middle"  fill="#222">2</text>
<text x="412.70" y="405.20" font-size="8.9" font-weight="normal" text-anchor="middle"  fill="#222">3</text>
<text x="437.85" y="405.20" font-size="8.9" font-weight="normal" text-anchor="middle"  fill="#222">4</text>
<clipPath id="c20"><rect x="347.6" y="410.6" width="105.89999999999998" height="20.099999999999966"/></clipPath>
<rect x="347.6" y="410.6" width="105.89999999999998" height="20.099999999999966" fill="#fff"/>
<g clip-path="url(#c20)">
<rect x="352.6" y="417.6" width="18.0" height="3.8" rx="1.9" fill="#000" opacity="0.85" filter="url(#b1)"/>
<rect x="403.2" y="417.1" width="18.0" height="3.4" rx="1.7" fill="#000" opacity="0.9" filter="url(#b1)"/>
<rect x="427.1" y="418.2" width="21.0" height="5.2" rx="2.6" fill="#000" opacity="0.75" filter="url(#b1)"/>
</g>
<rect x="347.6" y="410.6" width="105.89999999999998" height="20.099999999999966" fill="none" stroke="#000" stroke-width="0.9"/>
<clipPath id="c21"><rect x="347.6" y="434.8" width="105.89999999999998" height="20.19999999999999"/></clipPath>
<rect x="347.6" y="434.8" width="105.89999999999998" height="20.19999999999999" fill="#ececec"/>
<g clip-path="url(#c21)">
<rect x="351.4" y="439.2" width="21.0" height="5.0" rx="2.5" fill="#000" opacity="0.35" filter="url(#b2)"/>
<rect x="351.4" y="446.9" width="21.0" height="4.0" rx="2.0" fill="#000" opacity="0.3" filter="url(#b2)"/>
<rect x="376.6" y="439.2" width="21.0" height="5.0" rx="2.5" fill="#000" opacity="0.3" filter="url(#b2)"/>
<rect x="376.6" y="446.9" width="21.0" height="4.0" rx="2.0" fill="#000" opacity="0.25" filter="url(#b2)"/>
<rect x="401.7" y="439.2" width="21.0" height="5.0" rx="2.5" fill="#000" opacity="0.85" filter="url(#b2)"/>
<rect x="401.7" y="446.9" width="21.0" height="4.0" rx="2.0" fill="#000" opacity="0.6" filter="url(#b2)"/>
<rect x="426.9" y="439.2" width="21.0" height="5.0" rx="2.5" fill="#000" opacity="0.5" filter="url(#b2)"/>
<rect x="426.9" y="446.9" width="21.0" height="4.0" rx="2.0" fill="#000" opacity="0.4" filter="url(#b2)"/>
</g>
<rect x="347.6" y="434.8" width="105.89999999999998" height="20.19999999999999" fill="none" stroke="#000" stroke-width="0.9"/>
<clipPath id="c22"><rect x="347.6" y="459.0" width="105.89999999999998" height="19.5"/></clipPath>
<rect x="347.6" y="459.0" width="105.89999999999998" height="19.5" fill="#fff"/>
<g clip-path="url(#c22)">
<rect x="354.6" y="469.4" width="14.0" height="3.0" rx="1.5" fill="#000" opacity="0.55" filter="url(#b1)"/>
<rect x="378.8" y="468.9" width="16.0" height="3.0" rx="1.5" fill="#000" opacity="0.7" filter="url(#b1)"/>
<rect x="402.9" y="467.2" width="18.0" height="3.0" rx="1.5" fill="#000" opacity="0.8" filter="url(#b1)"/>
<rect x="427.1" y="466.1" width="20.0" height="3.0" rx="1.5" fill="#000" opacity="0.9" filter="url(#b1)"/>
</g>
<rect x="347.6" y="459.0" width="105.89999999999998" height="19.5" fill="none" stroke="#000" stroke-width="0.9"/>
<clipPath id="c23"><rect x="347.6" y="485.4" width="105.89999999999998" height="15.900000000000034"/></clipPath>
<rect x="347.6" y="485.4" width="105.89999999999998" height="15.900000000000034" fill="#fff"/>
<g clip-path="url(#c23)">
<rect x="349.9" y="490.4" width="25.0" height="7.0" rx="3.5" fill="#000" opacity="1" filter="url(#b1)"/>
<rect x="375.1" y="490.4" width="25.0" height="7.0" rx="3.5" fill="#000" opacity="1" filter="url(#b1)"/>
<rect x="400.2" y="490.4" width="25.0" height="7.0" rx="3.5" fill="#000" opacity="1" filter="url(#b1)"/>
<rect x="425.4" y="490.4" width="25.0" height="7.0" rx="3.5" fill="#000" opacity="1" filter="url(#b1)"/>
<rect x="350.6" y="491.8" width="99.9" height="4.2" rx="2.1" fill="#000" opacity="1" filter="url(#b1)"/>
</g>
<rect x="347.6" y="485.4" width="105.89999999999998" height="15.900000000000034" fill="none" stroke="#000" stroke-width="0.9"/>
</svg></body></html>
